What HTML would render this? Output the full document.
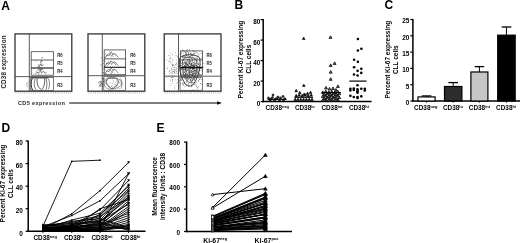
<!DOCTYPE html>
<html><head><meta charset="utf-8"><style>
html,body{margin:0;padding:0;background:#fff;overflow:hidden;}
svg{display:block;will-change:transform;}
text{font-family:"Liberation Sans",sans-serif;}
</style></head><body>
<svg width="520" height="243" viewBox="0 0 520 243">
<rect width="520" height="243" fill="#fff"/>
<text x="1.30" y="9.80" font-size="12" font-weight="bold" text-anchor="start" >A</text>
<text x="234.40" y="8.90" font-size="12" font-weight="bold" text-anchor="start" >B</text>
<text x="384.40" y="8.90" font-size="12" font-weight="bold" text-anchor="start" >C</text>
<text x="1.60" y="131.90" font-size="12" font-weight="bold" text-anchor="start" >D</text>
<text x="156.40" y="131.90" font-size="12" font-weight="bold" text-anchor="start" >E</text>
<text transform="translate(5.9,88.6) rotate(-90)" font-size="6.3" font-weight="bold" fill="#2a2a2a" textLength="53.2" lengthAdjust="spacing">CD38 expression</text>
<text x="17.90" y="104.80" font-size="5.6" font-weight="bold" text-anchor="start" fill="#2a2a2a" textLength="47" lengthAdjust="spacing">CD5 expression</text>
<line x1="69.20" y1="103.00" x2="218.00" y2="103.00" stroke="#000" stroke-width="1.1" />
<path d="M217.2,101.2 L221.8,103.0 L217.2,104.8 Z" fill="#000"/>
<line x1="15.50" y1="92.9" x2="71.30" y2="92.9" stroke="#888" stroke-width="0.9" stroke-dasharray="0.8,1.4"/>
<path transform="translate(15.00,0)" d="M17.2,78.3 C15.6,82 15.8,87 17.6,90.2" fill="none" stroke="#222" stroke-width="1.0"/>
<path transform="translate(15.00,0)" d="M20.2,78.8 C18.6,82 18.9,87 21,89.8" fill="none" stroke="#444" stroke-width="0.7"/>
<path transform="translate(15.00,0)" d="M22.2,78.6 C21.4,83 23.2,88 26.5,89.8 C29,88 30,83 29.6,78.4" fill="none" stroke="#333" stroke-width="0.8"/>
<path transform="translate(15.00,0)" d="M31,78.4 C32.2,82 32.2,86 31,89.6" fill="none" stroke="#444" stroke-width="0.7"/>
<path transform="translate(15.00,0)" d="M33.4,78.8 C35,82 35,86 33.4,89.2" fill="none" stroke="#555" stroke-width="0.7"/>
<path transform="translate(15.00,0)" d="M12.6,86.8 C11.4,85 11.4,83.5 12.6,82" fill="none" stroke="#777" stroke-width="0.6"/>
<path d="M30.8,77.9 L48.5,77.9" stroke="#111" stroke-width="0.9"/>
<path d="M35.0,74.2 l2,-2 l1.5,1 l2,-2.5 l1,2 l2,-1.5 l1.5,2 l1.5,-1 M37.5,70.5 l2,-1.5 l1,1.5 l1.5,-2 M38.0,66.5 l2,-1 l1,-2 l1,2.5 l1.5,-1.5 M40.5,62.5 l1,-2 l0.8,1.5 M41.5,58.5 l1.5,-1.5" fill="none" stroke="#333" stroke-width="0.6"/>
<circle cx="39.44" cy="70.05" r="0.42" fill="#444"/>
<circle cx="39.50" cy="66.74" r="0.42" fill="#444"/>
<circle cx="37.95" cy="67.15" r="0.42" fill="#444"/>
<circle cx="42.45" cy="69.70" r="0.42" fill="#444"/>
<circle cx="42.28" cy="69.00" r="0.42" fill="#444"/>
<circle cx="40.87" cy="68.74" r="0.42" fill="#444"/>
<circle cx="36.33" cy="71.42" r="0.42" fill="#444"/>
<circle cx="41.11" cy="70.00" r="0.42" fill="#444"/>
<circle cx="36.28" cy="61.02" r="0.42" fill="#444"/>
<circle cx="38.04" cy="66.13" r="0.42" fill="#444"/>
<circle cx="40.67" cy="67.82" r="0.42" fill="#444"/>
<circle cx="41.15" cy="65.43" r="0.42" fill="#444"/>
<circle cx="40.68" cy="69.58" r="0.42" fill="#444"/>
<circle cx="38.55" cy="74.87" r="0.42" fill="#444"/>
<circle cx="41.22" cy="72.79" r="0.42" fill="#444"/>
<circle cx="38.64" cy="65.04" r="0.42" fill="#444"/>
<circle cx="39.24" cy="67.57" r="0.42" fill="#444"/>
<circle cx="41.39" cy="68.99" r="0.42" fill="#444"/>
<circle cx="39.02" cy="64.17" r="0.42" fill="#444"/>
<circle cx="38.85" cy="72.88" r="0.42" fill="#444"/>
<circle cx="38.22" cy="68.98" r="0.42" fill="#444"/>
<circle cx="40.94" cy="62.04" r="0.42" fill="#444"/>
<rect x="15.00" y="33.9" width="56.8" height="57.30" fill="none" stroke="#333" stroke-width="1.3"/>
<line x1="29.30" y1="33.90" x2="29.30" y2="91.20" stroke="#4a4a4a" stroke-width="0.9" />
<line x1="15.00" y1="76.60" x2="71.80" y2="76.60" stroke="#4a4a4a" stroke-width="0.9" />
<rect x="31.20" y="51.7" width="22.20" height="23.50" fill="none" stroke="#444" stroke-width="0.8"/>
<line x1="31.20" y1="60.00" x2="53.40" y2="60.00" stroke="#333" stroke-width="0.8" />
<line x1="31.20" y1="68.00" x2="53.40" y2="68.00" stroke="#111" stroke-width="1.1" />
<rect x="30.80" y="77.60" width="22.60" height="12.70" fill="none" stroke="#444" stroke-width="0.7"/>
<text x="57.30" y="57.30" font-size="4.6" font-weight="bold" text-anchor="start" fill="#222" textLength="5.4" lengthAdjust="spacingAndGlyphs">R6</text>
<text x="57.30" y="65.20" font-size="4.6" font-weight="bold" text-anchor="start" fill="#222" textLength="5.4" lengthAdjust="spacingAndGlyphs">R5</text>
<text x="57.30" y="73.30" font-size="4.6" font-weight="bold" text-anchor="start" fill="#222" textLength="5.4" lengthAdjust="spacingAndGlyphs">R4</text>
<text x="57.30" y="86.80" font-size="4.6" font-weight="bold" text-anchor="start" fill="#222" textLength="5.4" lengthAdjust="spacingAndGlyphs">R3</text>
<line x1="88.50" y1="92.9" x2="144.30" y2="92.9" stroke="#888" stroke-width="0.9" stroke-dasharray="0.8,1.4"/>
<path d="M118.06,82.80 L117.73,83.64 L117.30,84.40 L116.84,85.08 L116.37,85.72 L115.89,86.36 L115.35,86.98 L114.71,87.56 L113.97,88.04 L113.11,88.36 L112.20,88.47 L111.29,88.35 L110.44,88.02 L109.70,87.53 L109.07,86.95 L108.53,86.34 L108.03,85.72 L107.55,85.08 L107.08,84.40 L106.64,83.65 L106.30,82.80 L106.14,81.87 L106.22,80.93 L106.57,80.03 L107.17,79.28 L107.97,78.72 L108.87,78.38 L109.78,78.22 L110.65,78.19 L111.44,78.20 L112.20,78.21 L112.96,78.19 L113.76,78.16 L114.64,78.19 L115.55,78.35 L116.45,78.70 L117.24,79.27 L117.83,80.04 L118.16,80.93 L118.23,81.88Z" fill="none" stroke="#222" stroke-width="0.8" opacity="1.0"/>
<path d="M121.54,83.20 L121.33,84.24 L120.82,85.22 L120.05,86.08 L119.12,86.80 L118.08,87.40 L117.01,87.88 L115.91,88.28 L114.79,88.63 L113.62,88.91 L112.40,89.10 L111.12,89.18 L109.80,89.11 L108.50,88.85 L107.28,88.40 L106.20,87.77 L105.32,86.99 L104.66,86.11 L104.22,85.16 L103.98,84.18 L103.93,83.20 L104.06,82.23 L104.36,81.27 L104.84,80.36 L105.52,79.51 L106.38,78.76 L107.42,78.14 L108.59,77.68 L109.84,77.39 L111.13,77.27 L112.40,77.30 L113.64,77.44 L114.83,77.67 L116.00,77.98 L117.15,78.38 L118.26,78.88 L119.31,79.50 L120.23,80.25 L120.95,81.15 L121.41,82.15Z" fill="none" stroke="#555" stroke-width="0.6" opacity="1.0"/>
<path d="M120.5,78.5 C122.5,81 122.5,86 121.0,88.5" fill="none" stroke="#444" stroke-width="0.6"/>
<path d="M105.0,57.90 l2,-3 l2,1 l2,-3.5 l2,2 l2,-1 l2,2.5 l1.5,1.5" fill="none" stroke="#333" stroke-width="0.6"/>
<path d="M106.0,55.40 l3,-2 l3,2.5 l2,-2" fill="none" stroke="#555" stroke-width="0.5"/>
<circle cx="111.15" cy="57.01" r="0.42" fill="#444"/>
<circle cx="104.96" cy="53.76" r="0.42" fill="#444"/>
<circle cx="110.68" cy="52.77" r="0.42" fill="#444"/>
<circle cx="112.49" cy="54.28" r="0.42" fill="#444"/>
<circle cx="106.61" cy="56.06" r="0.42" fill="#444"/>
<circle cx="113.01" cy="56.29" r="0.42" fill="#444"/>
<circle cx="115.32" cy="55.12" r="0.42" fill="#444"/>
<circle cx="111.36" cy="51.80" r="0.42" fill="#444"/>
<circle cx="112.85" cy="53.18" r="0.42" fill="#444"/>
<circle cx="109.64" cy="51.87" r="0.42" fill="#444"/>
<path d="M105.0,66.30 l2,-3 l2,1 l2,-3.5 l2,2 l2,-1 l2,2.5 l1.5,1.5" fill="none" stroke="#333" stroke-width="0.6"/>
<path d="M106.0,63.80 l3,-2 l3,2.5 l2,-2" fill="none" stroke="#555" stroke-width="0.5"/>
<circle cx="108.10" cy="62.04" r="0.42" fill="#444"/>
<circle cx="106.63" cy="63.58" r="0.42" fill="#444"/>
<circle cx="115.33" cy="64.26" r="0.42" fill="#444"/>
<circle cx="112.07" cy="61.63" r="0.42" fill="#444"/>
<circle cx="107.64" cy="65.05" r="0.42" fill="#444"/>
<circle cx="114.31" cy="63.41" r="0.42" fill="#444"/>
<circle cx="111.74" cy="63.97" r="0.42" fill="#444"/>
<circle cx="115.78" cy="64.34" r="0.42" fill="#444"/>
<path d="M105.0,73.70 l2,-3 l2,1 l2,-3.5 l2,2 l2,-1 l2,2.5 l1.5,1.5" fill="none" stroke="#333" stroke-width="0.6"/>
<path d="M106.0,71.20 l3,-2 l3,2.5 l2,-2" fill="none" stroke="#555" stroke-width="0.5"/>
<circle cx="112.56" cy="72.10" r="0.42" fill="#444"/>
<circle cx="106.30" cy="73.56" r="0.42" fill="#444"/>
<circle cx="113.87" cy="72.06" r="0.42" fill="#444"/>
<circle cx="105.08" cy="69.73" r="0.42" fill="#444"/>
<circle cx="110.45" cy="73.04" r="0.42" fill="#444"/>
<circle cx="112.66" cy="70.70" r="0.42" fill="#444"/>
<circle cx="111.97" cy="72.30" r="0.42" fill="#444"/>
<circle cx="111.36" cy="73.29" r="0.42" fill="#444"/>
<circle cx="99.94" cy="81.55" r="0.45" fill="#333"/>
<circle cx="102.67" cy="83.09" r="0.45" fill="#333"/>
<circle cx="99.59" cy="86.31" r="0.45" fill="#333"/>
<circle cx="103.34" cy="81.44" r="0.45" fill="#333"/>
<circle cx="98.79" cy="82.53" r="0.45" fill="#333"/>
<circle cx="100.76" cy="81.96" r="0.45" fill="#333"/>
<circle cx="103.25" cy="79.41" r="0.45" fill="#333"/>
<circle cx="103.02" cy="78.56" r="0.45" fill="#333"/>
<circle cx="99.74" cy="85.21" r="0.45" fill="#333"/>
<circle cx="102.81" cy="86.01" r="0.45" fill="#333"/>
<circle cx="101.55" cy="83.50" r="0.45" fill="#333"/>
<circle cx="101.24" cy="85.01" r="0.45" fill="#333"/>
<circle cx="100.72" cy="83.97" r="0.45" fill="#333"/>
<circle cx="101.92" cy="83.00" r="0.45" fill="#333"/>
<circle cx="102.22" cy="84.98" r="0.45" fill="#333"/>
<circle cx="104.22" cy="84.14" r="0.45" fill="#333"/>
<circle cx="100.32" cy="81.70" r="0.45" fill="#333"/>
<circle cx="100.98" cy="86.23" r="0.45" fill="#333"/>
<circle cx="100.46" cy="84.35" r="0.45" fill="#333"/>
<circle cx="99.20" cy="83.85" r="0.45" fill="#333"/>
<circle cx="101.64" cy="83.84" r="0.45" fill="#333"/>
<circle cx="100.31" cy="85.29" r="0.45" fill="#333"/>
<circle cx="101.45" cy="81.17" r="0.45" fill="#333"/>
<circle cx="100.11" cy="82.65" r="0.45" fill="#333"/>
<circle cx="103.23" cy="67.56" r="0.42" fill="#444"/>
<circle cx="100.23" cy="64.59" r="0.42" fill="#444"/>
<circle cx="104.71" cy="59.82" r="0.42" fill="#444"/>
<circle cx="103.42" cy="74.67" r="0.42" fill="#444"/>
<circle cx="104.53" cy="78.44" r="0.42" fill="#444"/>
<circle cx="101.46" cy="65.53" r="0.42" fill="#444"/>
<circle cx="103.09" cy="72.36" r="0.42" fill="#444"/>
<circle cx="104.81" cy="57.87" r="0.42" fill="#444"/>
<circle cx="104.32" cy="57.56" r="0.42" fill="#444"/>
<circle cx="103.71" cy="76.36" r="0.42" fill="#444"/>
<circle cx="103.32" cy="69.34" r="0.42" fill="#444"/>
<circle cx="104.46" cy="68.99" r="0.42" fill="#444"/>
<circle cx="103.39" cy="78.73" r="0.42" fill="#444"/>
<circle cx="104.76" cy="65.94" r="0.42" fill="#444"/>
<circle cx="104.60" cy="66.14" r="0.42" fill="#444"/>
<circle cx="103.66" cy="72.94" r="0.42" fill="#444"/>
<circle cx="103.77" cy="72.47" r="0.42" fill="#444"/>
<circle cx="101.67" cy="57.43" r="0.42" fill="#444"/>
<circle cx="104.24" cy="61.26" r="0.42" fill="#444"/>
<circle cx="102.27" cy="57.71" r="0.42" fill="#444"/>
<circle cx="105.02" cy="73.23" r="0.42" fill="#444"/>
<circle cx="105.27" cy="61.44" r="0.42" fill="#444"/>
<circle cx="103.50" cy="60.02" r="0.42" fill="#444"/>
<circle cx="104.42" cy="79.13" r="0.42" fill="#444"/>
<circle cx="102.43" cy="78.92" r="0.42" fill="#444"/>
<circle cx="104.69" cy="66.76" r="0.42" fill="#444"/>
<circle cx="101.13" cy="77.85" r="0.42" fill="#444"/>
<circle cx="103.38" cy="63.78" r="0.42" fill="#444"/>
<circle cx="114.00" cy="84.43" r="0.4" fill="#555"/>
<circle cx="119.49" cy="79.43" r="0.4" fill="#555"/>
<circle cx="117.68" cy="88.21" r="0.4" fill="#555"/>
<circle cx="119.26" cy="82.37" r="0.4" fill="#555"/>
<circle cx="108.28" cy="86.57" r="0.4" fill="#555"/>
<circle cx="112.58" cy="83.43" r="0.4" fill="#555"/>
<circle cx="119.12" cy="82.08" r="0.4" fill="#555"/>
<circle cx="113.59" cy="80.86" r="0.4" fill="#555"/>
<circle cx="111.95" cy="85.91" r="0.4" fill="#555"/>
<circle cx="112.39" cy="87.64" r="0.4" fill="#555"/>
<circle cx="111.69" cy="86.64" r="0.4" fill="#555"/>
<circle cx="119.46" cy="88.63" r="0.4" fill="#555"/>
<circle cx="108.64" cy="86.08" r="0.4" fill="#555"/>
<circle cx="105.84" cy="82.96" r="0.4" fill="#555"/>
<circle cx="111.04" cy="82.90" r="0.4" fill="#555"/>
<circle cx="109.04" cy="83.82" r="0.4" fill="#555"/>
<circle cx="120.96" cy="83.15" r="0.4" fill="#555"/>
<circle cx="114.65" cy="86.50" r="0.4" fill="#555"/>
<circle cx="111.01" cy="78.59" r="0.4" fill="#555"/>
<circle cx="109.22" cy="86.76" r="0.4" fill="#555"/>
<circle cx="117.04" cy="85.77" r="0.4" fill="#555"/>
<circle cx="112.04" cy="85.82" r="0.4" fill="#555"/>
<circle cx="112.83" cy="78.87" r="0.4" fill="#555"/>
<circle cx="104.18" cy="80.76" r="0.4" fill="#555"/>
<circle cx="116.61" cy="81.02" r="0.4" fill="#555"/>
<circle cx="107.49" cy="80.30" r="0.4" fill="#555"/>
<circle cx="104.34" cy="82.59" r="0.4" fill="#555"/>
<circle cx="106.10" cy="84.27" r="0.4" fill="#555"/>
<circle cx="115.62" cy="82.04" r="0.4" fill="#555"/>
<circle cx="113.46" cy="81.39" r="0.4" fill="#555"/>
<circle cx="115.90" cy="85.62" r="0.4" fill="#555"/>
<circle cx="115.33" cy="84.14" r="0.4" fill="#555"/>
<rect x="88.00" y="33.9" width="56.8" height="57.30" fill="none" stroke="#333" stroke-width="1.3"/>
<line x1="102.30" y1="33.90" x2="102.30" y2="91.20" stroke="#4a4a4a" stroke-width="0.9" />
<line x1="88.00" y1="75.70" x2="144.80" y2="75.70" stroke="#4a4a4a" stroke-width="0.9" />
<rect x="104.20" y="49.9" width="21.40" height="24.80" fill="none" stroke="#444" stroke-width="0.8"/>
<line x1="104.20" y1="58.90" x2="125.60" y2="58.90" stroke="#333" stroke-width="0.8" />
<line x1="104.20" y1="67.30" x2="125.60" y2="67.30" stroke="#111" stroke-width="1.1" />
<rect x="103.80" y="76.70" width="21.80" height="13.60" fill="none" stroke="#444" stroke-width="0.7"/>
<text x="130.30" y="57.30" font-size="4.6" font-weight="bold" text-anchor="start" fill="#222" textLength="5.4" lengthAdjust="spacingAndGlyphs">R6</text>
<text x="130.30" y="65.20" font-size="4.6" font-weight="bold" text-anchor="start" fill="#222" textLength="5.4" lengthAdjust="spacingAndGlyphs">R5</text>
<text x="130.30" y="73.30" font-size="4.6" font-weight="bold" text-anchor="start" fill="#222" textLength="5.4" lengthAdjust="spacingAndGlyphs">R4</text>
<text x="130.30" y="86.80" font-size="4.6" font-weight="bold" text-anchor="start" fill="#222" textLength="5.4" lengthAdjust="spacingAndGlyphs">R3</text>
<line x1="164.70" y1="92.9" x2="220.50" y2="92.9" stroke="#888" stroke-width="0.9" stroke-dasharray="0.8,1.4"/>
<circle cx="197.60" cy="76.27" r="0.45" fill="#3a3a3a"/>
<circle cx="192.31" cy="50.20" r="0.45" fill="#3a3a3a"/>
<circle cx="194.98" cy="82.44" r="0.45" fill="#3a3a3a"/>
<circle cx="187.82" cy="65.54" r="0.45" fill="#3a3a3a"/>
<circle cx="201.24" cy="53.30" r="0.45" fill="#3a3a3a"/>
<circle cx="184.03" cy="76.55" r="0.45" fill="#3a3a3a"/>
<circle cx="200.92" cy="68.86" r="0.45" fill="#3a3a3a"/>
<circle cx="192.97" cy="78.57" r="0.45" fill="#3a3a3a"/>
<circle cx="184.17" cy="69.15" r="0.45" fill="#3a3a3a"/>
<circle cx="191.36" cy="77.84" r="0.45" fill="#3a3a3a"/>
<circle cx="189.39" cy="68.14" r="0.45" fill="#3a3a3a"/>
<circle cx="183.50" cy="66.59" r="0.45" fill="#3a3a3a"/>
<circle cx="194.95" cy="70.97" r="0.45" fill="#3a3a3a"/>
<circle cx="184.48" cy="62.00" r="0.45" fill="#3a3a3a"/>
<circle cx="193.33" cy="74.57" r="0.45" fill="#3a3a3a"/>
<circle cx="199.70" cy="74.06" r="0.45" fill="#3a3a3a"/>
<circle cx="189.20" cy="74.96" r="0.45" fill="#3a3a3a"/>
<circle cx="177.93" cy="79.82" r="0.45" fill="#3a3a3a"/>
<circle cx="191.55" cy="63.33" r="0.45" fill="#3a3a3a"/>
<circle cx="197.55" cy="87.19" r="0.45" fill="#3a3a3a"/>
<circle cx="181.19" cy="63.67" r="0.45" fill="#3a3a3a"/>
<circle cx="191.35" cy="71.74" r="0.45" fill="#3a3a3a"/>
<circle cx="187.21" cy="60.74" r="0.45" fill="#3a3a3a"/>
<circle cx="202.32" cy="79.86" r="0.45" fill="#3a3a3a"/>
<circle cx="182.43" cy="57.22" r="0.45" fill="#3a3a3a"/>
<circle cx="199.82" cy="79.40" r="0.45" fill="#3a3a3a"/>
<circle cx="200.53" cy="77.70" r="0.45" fill="#3a3a3a"/>
<circle cx="184.37" cy="72.48" r="0.45" fill="#3a3a3a"/>
<circle cx="176.64" cy="62.89" r="0.45" fill="#3a3a3a"/>
<circle cx="189.25" cy="74.97" r="0.45" fill="#3a3a3a"/>
<circle cx="185.23" cy="68.82" r="0.45" fill="#3a3a3a"/>
<circle cx="192.35" cy="73.58" r="0.45" fill="#3a3a3a"/>
<circle cx="193.43" cy="71.99" r="0.45" fill="#3a3a3a"/>
<circle cx="187.66" cy="77.50" r="0.45" fill="#3a3a3a"/>
<circle cx="189.90" cy="62.15" r="0.45" fill="#3a3a3a"/>
<circle cx="185.84" cy="70.00" r="0.45" fill="#3a3a3a"/>
<circle cx="188.94" cy="71.49" r="0.45" fill="#3a3a3a"/>
<circle cx="189.60" cy="71.67" r="0.45" fill="#3a3a3a"/>
<circle cx="188.79" cy="58.04" r="0.45" fill="#3a3a3a"/>
<circle cx="192.13" cy="80.01" r="0.45" fill="#3a3a3a"/>
<circle cx="192.21" cy="68.20" r="0.45" fill="#3a3a3a"/>
<circle cx="192.28" cy="60.83" r="0.45" fill="#3a3a3a"/>
<circle cx="178.22" cy="70.57" r="0.45" fill="#3a3a3a"/>
<circle cx="184.02" cy="77.03" r="0.45" fill="#3a3a3a"/>
<circle cx="183.36" cy="84.99" r="0.45" fill="#3a3a3a"/>
<circle cx="187.31" cy="56.99" r="0.45" fill="#3a3a3a"/>
<circle cx="185.02" cy="74.95" r="0.45" fill="#3a3a3a"/>
<circle cx="192.58" cy="71.68" r="0.45" fill="#3a3a3a"/>
<circle cx="198.50" cy="76.71" r="0.45" fill="#3a3a3a"/>
<circle cx="189.47" cy="75.67" r="0.45" fill="#3a3a3a"/>
<circle cx="199.53" cy="79.23" r="0.45" fill="#3a3a3a"/>
<circle cx="195.74" cy="59.71" r="0.45" fill="#3a3a3a"/>
<circle cx="188.71" cy="76.93" r="0.45" fill="#3a3a3a"/>
<circle cx="187.82" cy="80.15" r="0.45" fill="#3a3a3a"/>
<circle cx="193.18" cy="78.63" r="0.45" fill="#3a3a3a"/>
<circle cx="197.04" cy="67.95" r="0.45" fill="#3a3a3a"/>
<circle cx="187.54" cy="78.30" r="0.45" fill="#3a3a3a"/>
<circle cx="195.48" cy="70.06" r="0.45" fill="#3a3a3a"/>
<circle cx="182.60" cy="71.78" r="0.45" fill="#3a3a3a"/>
<circle cx="191.76" cy="80.73" r="0.45" fill="#3a3a3a"/>
<circle cx="194.30" cy="70.23" r="0.45" fill="#3a3a3a"/>
<circle cx="194.72" cy="75.13" r="0.45" fill="#3a3a3a"/>
<circle cx="190.84" cy="70.52" r="0.45" fill="#3a3a3a"/>
<circle cx="188.14" cy="76.52" r="0.45" fill="#3a3a3a"/>
<circle cx="183.27" cy="64.03" r="0.45" fill="#3a3a3a"/>
<circle cx="189.63" cy="56.09" r="0.45" fill="#3a3a3a"/>
<circle cx="186.98" cy="50.92" r="0.45" fill="#3a3a3a"/>
<circle cx="185.50" cy="75.40" r="0.45" fill="#3a3a3a"/>
<circle cx="193.00" cy="69.48" r="0.45" fill="#3a3a3a"/>
<circle cx="188.21" cy="56.54" r="0.45" fill="#3a3a3a"/>
<circle cx="200.57" cy="74.90" r="0.45" fill="#3a3a3a"/>
<circle cx="196.16" cy="61.62" r="0.45" fill="#3a3a3a"/>
<circle cx="188.49" cy="52.71" r="0.45" fill="#3a3a3a"/>
<circle cx="194.28" cy="78.88" r="0.45" fill="#3a3a3a"/>
<circle cx="178.22" cy="69.50" r="0.45" fill="#3a3a3a"/>
<circle cx="193.38" cy="53.26" r="0.45" fill="#3a3a3a"/>
<circle cx="178.65" cy="59.88" r="0.45" fill="#3a3a3a"/>
<circle cx="185.82" cy="56.67" r="0.45" fill="#3a3a3a"/>
<circle cx="189.79" cy="72.37" r="0.45" fill="#3a3a3a"/>
<circle cx="193.40" cy="76.67" r="0.45" fill="#3a3a3a"/>
<circle cx="198.62" cy="81.06" r="0.45" fill="#3a3a3a"/>
<circle cx="181.73" cy="65.20" r="0.45" fill="#3a3a3a"/>
<circle cx="183.24" cy="59.77" r="0.45" fill="#3a3a3a"/>
<circle cx="189.11" cy="70.05" r="0.45" fill="#3a3a3a"/>
<circle cx="192.54" cy="54.92" r="0.45" fill="#3a3a3a"/>
<circle cx="182.17" cy="69.78" r="0.45" fill="#3a3a3a"/>
<circle cx="188.40" cy="67.04" r="0.45" fill="#3a3a3a"/>
<circle cx="189.22" cy="62.78" r="0.45" fill="#3a3a3a"/>
<circle cx="193.81" cy="73.37" r="0.45" fill="#3a3a3a"/>
<circle cx="189.07" cy="63.62" r="0.45" fill="#3a3a3a"/>
<circle cx="183.71" cy="70.35" r="0.45" fill="#3a3a3a"/>
<circle cx="180.58" cy="71.90" r="0.45" fill="#3a3a3a"/>
<circle cx="190.48" cy="56.91" r="0.45" fill="#3a3a3a"/>
<circle cx="188.10" cy="67.02" r="0.45" fill="#3a3a3a"/>
<circle cx="192.36" cy="75.81" r="0.45" fill="#3a3a3a"/>
<circle cx="189.38" cy="61.91" r="0.45" fill="#3a3a3a"/>
<circle cx="188.73" cy="69.38" r="0.45" fill="#3a3a3a"/>
<circle cx="194.01" cy="72.80" r="0.45" fill="#3a3a3a"/>
<circle cx="185.26" cy="57.13" r="0.45" fill="#3a3a3a"/>
<circle cx="187.36" cy="62.97" r="0.45" fill="#3a3a3a"/>
<circle cx="182.93" cy="68.90" r="0.45" fill="#3a3a3a"/>
<circle cx="186.65" cy="71.00" r="0.45" fill="#3a3a3a"/>
<circle cx="192.74" cy="66.08" r="0.45" fill="#3a3a3a"/>
<circle cx="203.55" cy="66.95" r="0.45" fill="#3a3a3a"/>
<circle cx="196.21" cy="71.16" r="0.45" fill="#3a3a3a"/>
<circle cx="185.09" cy="72.35" r="0.45" fill="#3a3a3a"/>
<circle cx="191.54" cy="82.16" r="0.45" fill="#3a3a3a"/>
<circle cx="194.20" cy="79.00" r="0.45" fill="#3a3a3a"/>
<circle cx="192.66" cy="68.52" r="0.45" fill="#3a3a3a"/>
<circle cx="192.65" cy="59.76" r="0.45" fill="#3a3a3a"/>
<circle cx="196.69" cy="60.34" r="0.45" fill="#3a3a3a"/>
<circle cx="191.10" cy="90.15" r="0.45" fill="#3a3a3a"/>
<circle cx="188.26" cy="70.19" r="0.45" fill="#3a3a3a"/>
<circle cx="196.58" cy="70.25" r="0.45" fill="#3a3a3a"/>
<circle cx="184.75" cy="72.45" r="0.45" fill="#3a3a3a"/>
<circle cx="193.09" cy="76.75" r="0.45" fill="#3a3a3a"/>
<circle cx="184.96" cy="86.65" r="0.45" fill="#3a3a3a"/>
<circle cx="199.60" cy="70.17" r="0.45" fill="#3a3a3a"/>
<circle cx="191.21" cy="65.93" r="0.45" fill="#3a3a3a"/>
<circle cx="198.08" cy="63.30" r="0.45" fill="#3a3a3a"/>
<circle cx="193.64" cy="65.44" r="0.45" fill="#3a3a3a"/>
<circle cx="185.44" cy="76.83" r="0.45" fill="#3a3a3a"/>
<circle cx="197.60" cy="69.90" r="0.45" fill="#3a3a3a"/>
<circle cx="185.54" cy="77.71" r="0.45" fill="#3a3a3a"/>
<circle cx="189.30" cy="72.95" r="0.45" fill="#3a3a3a"/>
<circle cx="198.74" cy="80.75" r="0.45" fill="#3a3a3a"/>
<circle cx="189.62" cy="77.47" r="0.45" fill="#3a3a3a"/>
<circle cx="185.72" cy="69.58" r="0.45" fill="#3a3a3a"/>
<circle cx="179.10" cy="86.97" r="0.45" fill="#3a3a3a"/>
<circle cx="197.79" cy="58.45" r="0.45" fill="#3a3a3a"/>
<circle cx="180.57" cy="54.60" r="0.45" fill="#3a3a3a"/>
<circle cx="196.65" cy="65.63" r="0.45" fill="#3a3a3a"/>
<circle cx="189.24" cy="67.03" r="0.45" fill="#3a3a3a"/>
<circle cx="188.87" cy="59.66" r="0.45" fill="#3a3a3a"/>
<circle cx="189.74" cy="56.34" r="0.45" fill="#3a3a3a"/>
<circle cx="189.17" cy="72.93" r="0.45" fill="#3a3a3a"/>
<circle cx="192.41" cy="67.80" r="0.45" fill="#3a3a3a"/>
<circle cx="184.18" cy="71.52" r="0.45" fill="#3a3a3a"/>
<circle cx="186.69" cy="84.88" r="0.45" fill="#3a3a3a"/>
<circle cx="194.21" cy="68.91" r="0.45" fill="#3a3a3a"/>
<circle cx="186.77" cy="63.32" r="0.45" fill="#3a3a3a"/>
<circle cx="183.98" cy="66.65" r="0.45" fill="#3a3a3a"/>
<circle cx="191.37" cy="74.90" r="0.45" fill="#3a3a3a"/>
<circle cx="193.01" cy="89.94" r="0.45" fill="#3a3a3a"/>
<circle cx="185.37" cy="70.12" r="0.45" fill="#3a3a3a"/>
<circle cx="186.47" cy="71.61" r="0.45" fill="#3a3a3a"/>
<circle cx="190.53" cy="73.87" r="0.45" fill="#3a3a3a"/>
<circle cx="188.17" cy="73.48" r="0.45" fill="#3a3a3a"/>
<circle cx="189.92" cy="77.33" r="0.45" fill="#3a3a3a"/>
<circle cx="178.24" cy="61.59" r="0.45" fill="#3a3a3a"/>
<circle cx="189.59" cy="60.20" r="0.45" fill="#3a3a3a"/>
<circle cx="183.33" cy="75.96" r="0.45" fill="#3a3a3a"/>
<circle cx="185.70" cy="76.03" r="0.45" fill="#3a3a3a"/>
<circle cx="194.07" cy="72.91" r="0.45" fill="#3a3a3a"/>
<circle cx="192.65" cy="69.01" r="0.45" fill="#3a3a3a"/>
<circle cx="181.15" cy="69.71" r="0.45" fill="#3a3a3a"/>
<circle cx="192.33" cy="64.97" r="0.45" fill="#3a3a3a"/>
<circle cx="189.00" cy="77.12" r="0.45" fill="#3a3a3a"/>
<circle cx="184.33" cy="76.08" r="0.45" fill="#3a3a3a"/>
<circle cx="200.78" cy="64.73" r="0.45" fill="#3a3a3a"/>
<circle cx="190.48" cy="68.57" r="0.45" fill="#3a3a3a"/>
<circle cx="198.84" cy="73.01" r="0.45" fill="#3a3a3a"/>
<circle cx="194.99" cy="63.44" r="0.45" fill="#3a3a3a"/>
<circle cx="189.50" cy="69.91" r="0.45" fill="#3a3a3a"/>
<circle cx="178.94" cy="83.69" r="0.45" fill="#3a3a3a"/>
<circle cx="195.00" cy="53.38" r="0.45" fill="#3a3a3a"/>
<circle cx="194.07" cy="68.75" r="0.45" fill="#3a3a3a"/>
<circle cx="192.29" cy="73.48" r="0.45" fill="#3a3a3a"/>
<circle cx="180.61" cy="67.99" r="0.45" fill="#3a3a3a"/>
<circle cx="198.56" cy="64.54" r="0.45" fill="#3a3a3a"/>
<circle cx="183.46" cy="57.08" r="0.45" fill="#3a3a3a"/>
<circle cx="182.27" cy="73.19" r="0.45" fill="#3a3a3a"/>
<circle cx="199.76" cy="74.08" r="0.45" fill="#3a3a3a"/>
<circle cx="186.48" cy="63.60" r="0.45" fill="#3a3a3a"/>
<circle cx="192.77" cy="75.21" r="0.45" fill="#3a3a3a"/>
<circle cx="183.51" cy="58.89" r="0.45" fill="#3a3a3a"/>
<circle cx="191.35" cy="72.35" r="0.45" fill="#3a3a3a"/>
<circle cx="181.76" cy="68.08" r="0.45" fill="#3a3a3a"/>
<circle cx="186.34" cy="74.37" r="0.45" fill="#3a3a3a"/>
<circle cx="188.90" cy="69.18" r="0.45" fill="#3a3a3a"/>
<circle cx="187.48" cy="80.01" r="0.45" fill="#3a3a3a"/>
<circle cx="197.94" cy="66.51" r="0.45" fill="#3a3a3a"/>
<circle cx="194.68" cy="62.80" r="0.45" fill="#3a3a3a"/>
<circle cx="190.03" cy="77.12" r="0.45" fill="#3a3a3a"/>
<circle cx="198.69" cy="66.37" r="0.45" fill="#3a3a3a"/>
<circle cx="189.16" cy="71.87" r="0.45" fill="#3a3a3a"/>
<circle cx="180.61" cy="70.15" r="0.45" fill="#3a3a3a"/>
<circle cx="185.54" cy="73.53" r="0.45" fill="#3a3a3a"/>
<circle cx="182.82" cy="51.22" r="0.45" fill="#3a3a3a"/>
<circle cx="189.83" cy="72.48" r="0.45" fill="#3a3a3a"/>
<circle cx="186.31" cy="78.44" r="0.45" fill="#3a3a3a"/>
<circle cx="187.96" cy="64.25" r="0.45" fill="#3a3a3a"/>
<circle cx="192.47" cy="55.10" r="0.45" fill="#3a3a3a"/>
<circle cx="185.54" cy="69.80" r="0.45" fill="#3a3a3a"/>
<circle cx="194.69" cy="68.45" r="0.45" fill="#3a3a3a"/>
<circle cx="191.45" cy="63.77" r="0.45" fill="#3a3a3a"/>
<circle cx="191.41" cy="85.80" r="0.45" fill="#3a3a3a"/>
<circle cx="185.74" cy="70.16" r="0.45" fill="#3a3a3a"/>
<circle cx="190.64" cy="79.73" r="0.45" fill="#3a3a3a"/>
<circle cx="182.18" cy="50.04" r="0.45" fill="#3a3a3a"/>
<circle cx="193.24" cy="77.56" r="0.45" fill="#3a3a3a"/>
<circle cx="190.83" cy="72.41" r="0.45" fill="#3a3a3a"/>
<circle cx="195.18" cy="73.50" r="0.45" fill="#3a3a3a"/>
<circle cx="199.58" cy="58.24" r="0.45" fill="#3a3a3a"/>
<circle cx="194.47" cy="66.46" r="0.45" fill="#3a3a3a"/>
<circle cx="195.14" cy="90.46" r="0.45" fill="#3a3a3a"/>
<circle cx="189.56" cy="67.58" r="0.45" fill="#3a3a3a"/>
<circle cx="186.60" cy="62.04" r="0.45" fill="#3a3a3a"/>
<circle cx="185.82" cy="76.07" r="0.45" fill="#3a3a3a"/>
<circle cx="189.82" cy="70.63" r="0.45" fill="#3a3a3a"/>
<circle cx="188.56" cy="78.69" r="0.45" fill="#3a3a3a"/>
<circle cx="192.56" cy="68.65" r="0.45" fill="#3a3a3a"/>
<circle cx="193.59" cy="68.56" r="0.45" fill="#3a3a3a"/>
<circle cx="182.68" cy="83.83" r="0.45" fill="#3a3a3a"/>
<circle cx="192.39" cy="60.91" r="0.45" fill="#3a3a3a"/>
<circle cx="196.07" cy="73.28" r="0.45" fill="#3a3a3a"/>
<circle cx="180.21" cy="85.29" r="0.45" fill="#3a3a3a"/>
<circle cx="191.60" cy="78.47" r="0.45" fill="#3a3a3a"/>
<circle cx="190.79" cy="68.58" r="0.45" fill="#3a3a3a"/>
<circle cx="180.31" cy="79.23" r="0.45" fill="#3a3a3a"/>
<circle cx="189.78" cy="67.28" r="0.45" fill="#3a3a3a"/>
<circle cx="191.71" cy="70.74" r="0.45" fill="#3a3a3a"/>
<circle cx="193.65" cy="66.48" r="0.45" fill="#3a3a3a"/>
<circle cx="189.38" cy="49.68" r="0.45" fill="#3a3a3a"/>
<circle cx="187.06" cy="76.42" r="0.45" fill="#3a3a3a"/>
<circle cx="197.62" cy="66.54" r="0.45" fill="#3a3a3a"/>
<circle cx="188.87" cy="85.04" r="0.45" fill="#3a3a3a"/>
<circle cx="187.65" cy="76.97" r="0.45" fill="#3a3a3a"/>
<circle cx="199.67" cy="70.38" r="0.45" fill="#3a3a3a"/>
<circle cx="196.96" cy="63.25" r="0.45" fill="#3a3a3a"/>
<circle cx="190.85" cy="69.27" r="0.45" fill="#3a3a3a"/>
<circle cx="190.29" cy="80.73" r="0.45" fill="#3a3a3a"/>
<circle cx="203.94" cy="63.68" r="0.45" fill="#3a3a3a"/>
<circle cx="186.15" cy="74.73" r="0.45" fill="#3a3a3a"/>
<circle cx="183.27" cy="74.72" r="0.45" fill="#3a3a3a"/>
<circle cx="193.03" cy="67.36" r="0.45" fill="#3a3a3a"/>
<circle cx="192.79" cy="55.28" r="0.45" fill="#3a3a3a"/>
<circle cx="194.16" cy="55.32" r="0.45" fill="#3a3a3a"/>
<circle cx="185.42" cy="64.72" r="0.45" fill="#3a3a3a"/>
<circle cx="187.19" cy="78.16" r="0.45" fill="#3a3a3a"/>
<circle cx="190.09" cy="66.22" r="0.45" fill="#3a3a3a"/>
<circle cx="192.86" cy="85.02" r="0.45" fill="#3a3a3a"/>
<circle cx="189.64" cy="73.48" r="0.45" fill="#3a3a3a"/>
<circle cx="197.04" cy="72.54" r="0.45" fill="#3a3a3a"/>
<circle cx="202.85" cy="51.14" r="0.45" fill="#3a3a3a"/>
<circle cx="189.37" cy="73.96" r="0.45" fill="#3a3a3a"/>
<circle cx="195.39" cy="76.36" r="0.45" fill="#3a3a3a"/>
<circle cx="187.97" cy="59.99" r="0.45" fill="#3a3a3a"/>
<circle cx="190.22" cy="79.82" r="0.45" fill="#3a3a3a"/>
<circle cx="183.06" cy="60.24" r="0.45" fill="#3a3a3a"/>
<circle cx="189.45" cy="51.59" r="0.45" fill="#3a3a3a"/>
<circle cx="188.04" cy="65.85" r="0.45" fill="#3a3a3a"/>
<circle cx="192.30" cy="63.33" r="0.45" fill="#3a3a3a"/>
<circle cx="184.31" cy="66.26" r="0.45" fill="#3a3a3a"/>
<circle cx="189.30" cy="63.69" r="0.45" fill="#3a3a3a"/>
<circle cx="189.67" cy="77.13" r="0.45" fill="#3a3a3a"/>
<circle cx="196.71" cy="86.20" r="0.45" fill="#3a3a3a"/>
<circle cx="184.90" cy="66.01" r="0.45" fill="#3a3a3a"/>
<circle cx="174.70" cy="88.04" r="0.45" fill="#3a3a3a"/>
<circle cx="185.25" cy="69.68" r="0.45" fill="#3a3a3a"/>
<circle cx="192.74" cy="57.09" r="0.45" fill="#3a3a3a"/>
<circle cx="192.38" cy="69.75" r="0.45" fill="#3a3a3a"/>
<circle cx="178.64" cy="72.77" r="0.45" fill="#3a3a3a"/>
<circle cx="196.77" cy="52.26" r="0.45" fill="#3a3a3a"/>
<circle cx="194.44" cy="71.99" r="0.45" fill="#3a3a3a"/>
<circle cx="192.45" cy="74.19" r="0.45" fill="#3a3a3a"/>
<circle cx="197.42" cy="67.88" r="0.45" fill="#3a3a3a"/>
<circle cx="194.84" cy="66.11" r="0.45" fill="#3a3a3a"/>
<circle cx="193.97" cy="62.27" r="0.45" fill="#3a3a3a"/>
<circle cx="188.95" cy="86.44" r="0.45" fill="#3a3a3a"/>
<circle cx="192.27" cy="68.50" r="0.45" fill="#3a3a3a"/>
<circle cx="182.73" cy="62.49" r="0.45" fill="#3a3a3a"/>
<circle cx="190.76" cy="78.92" r="0.45" fill="#3a3a3a"/>
<circle cx="192.16" cy="74.98" r="0.45" fill="#3a3a3a"/>
<circle cx="189.35" cy="82.84" r="0.45" fill="#3a3a3a"/>
<circle cx="187.26" cy="64.78" r="0.45" fill="#3a3a3a"/>
<circle cx="194.93" cy="70.60" r="0.45" fill="#3a3a3a"/>
<circle cx="187.93" cy="64.53" r="0.45" fill="#3a3a3a"/>
<circle cx="188.06" cy="75.92" r="0.45" fill="#3a3a3a"/>
<circle cx="191.72" cy="58.51" r="0.45" fill="#3a3a3a"/>
<circle cx="192.16" cy="71.70" r="0.45" fill="#3a3a3a"/>
<circle cx="183.60" cy="77.34" r="0.45" fill="#3a3a3a"/>
<circle cx="187.92" cy="66.81" r="0.45" fill="#3a3a3a"/>
<circle cx="194.37" cy="82.55" r="0.45" fill="#3a3a3a"/>
<circle cx="185.47" cy="74.16" r="0.45" fill="#3a3a3a"/>
<circle cx="186.64" cy="81.35" r="0.45" fill="#3a3a3a"/>
<circle cx="185.72" cy="77.71" r="0.45" fill="#3a3a3a"/>
<circle cx="186.99" cy="74.75" r="0.45" fill="#3a3a3a"/>
<circle cx="189.04" cy="63.65" r="0.45" fill="#3a3a3a"/>
<circle cx="202.51" cy="70.76" r="0.45" fill="#3a3a3a"/>
<circle cx="179.73" cy="78.11" r="0.45" fill="#3a3a3a"/>
<circle cx="179.27" cy="80.93" r="0.45" fill="#3a3a3a"/>
<circle cx="186.13" cy="71.38" r="0.45" fill="#3a3a3a"/>
<circle cx="197.17" cy="71.12" r="0.45" fill="#3a3a3a"/>
<circle cx="181.25" cy="53.89" r="0.45" fill="#3a3a3a"/>
<circle cx="196.70" cy="77.03" r="0.45" fill="#3a3a3a"/>
<circle cx="184.71" cy="78.17" r="0.45" fill="#3a3a3a"/>
<circle cx="192.58" cy="76.15" r="0.45" fill="#3a3a3a"/>
<circle cx="176.05" cy="67.13" r="0.45" fill="#3a3a3a"/>
<circle cx="195.00" cy="76.97" r="0.45" fill="#3a3a3a"/>
<circle cx="190.61" cy="74.68" r="0.45" fill="#3a3a3a"/>
<circle cx="187.62" cy="70.34" r="0.45" fill="#3a3a3a"/>
<circle cx="194.92" cy="65.79" r="0.45" fill="#3a3a3a"/>
<circle cx="196.48" cy="62.51" r="0.45" fill="#3a3a3a"/>
<circle cx="191.20" cy="64.99" r="0.45" fill="#3a3a3a"/>
<circle cx="190.55" cy="63.44" r="0.45" fill="#3a3a3a"/>
<circle cx="180.02" cy="80.38" r="0.45" fill="#3a3a3a"/>
<circle cx="191.42" cy="64.69" r="0.45" fill="#3a3a3a"/>
<circle cx="190.81" cy="79.41" r="0.45" fill="#3a3a3a"/>
<circle cx="183.74" cy="68.95" r="0.45" fill="#3a3a3a"/>
<circle cx="192.83" cy="75.00" r="0.45" fill="#3a3a3a"/>
<circle cx="187.59" cy="49.98" r="0.45" fill="#3a3a3a"/>
<circle cx="197.06" cy="73.12" r="0.45" fill="#3a3a3a"/>
<circle cx="189.68" cy="67.35" r="0.45" fill="#3a3a3a"/>
<circle cx="191.18" cy="65.96" r="0.45" fill="#3a3a3a"/>
<circle cx="183.45" cy="62.97" r="0.45" fill="#3a3a3a"/>
<circle cx="186.02" cy="64.18" r="0.45" fill="#3a3a3a"/>
<circle cx="182.65" cy="76.05" r="0.45" fill="#3a3a3a"/>
<circle cx="181.74" cy="76.27" r="0.45" fill="#3a3a3a"/>
<circle cx="183.51" cy="73.35" r="0.45" fill="#3a3a3a"/>
<circle cx="197.84" cy="71.93" r="0.45" fill="#3a3a3a"/>
<circle cx="185.22" cy="70.46" r="0.45" fill="#3a3a3a"/>
<circle cx="190.49" cy="53.53" r="0.45" fill="#3a3a3a"/>
<circle cx="185.95" cy="71.55" r="0.45" fill="#3a3a3a"/>
<circle cx="186.78" cy="70.76" r="0.45" fill="#3a3a3a"/>
<circle cx="194.00" cy="77.28" r="0.45" fill="#3a3a3a"/>
<circle cx="195.03" cy="75.59" r="0.45" fill="#3a3a3a"/>
<circle cx="187.87" cy="69.83" r="0.45" fill="#3a3a3a"/>
<circle cx="187.97" cy="67.02" r="0.45" fill="#3a3a3a"/>
<circle cx="188.52" cy="53.62" r="0.45" fill="#3a3a3a"/>
<circle cx="187.60" cy="69.77" r="0.45" fill="#3a3a3a"/>
<circle cx="183.76" cy="69.77" r="0.45" fill="#3a3a3a"/>
<circle cx="192.69" cy="68.44" r="0.45" fill="#3a3a3a"/>
<circle cx="188.36" cy="52.66" r="0.45" fill="#3a3a3a"/>
<circle cx="174.59" cy="71.22" r="0.45" fill="#3a3a3a"/>
<circle cx="192.71" cy="67.13" r="0.45" fill="#3a3a3a"/>
<circle cx="194.71" cy="73.53" r="0.45" fill="#3a3a3a"/>
<circle cx="189.74" cy="64.42" r="0.45" fill="#3a3a3a"/>
<circle cx="193.43" cy="65.39" r="0.45" fill="#3a3a3a"/>
<circle cx="190.94" cy="65.15" r="0.45" fill="#3a3a3a"/>
<circle cx="176.12" cy="69.70" r="0.45" fill="#3a3a3a"/>
<circle cx="190.81" cy="77.17" r="0.45" fill="#3a3a3a"/>
<circle cx="184.34" cy="69.69" r="0.45" fill="#3a3a3a"/>
<circle cx="193.30" cy="71.38" r="0.45" fill="#3a3a3a"/>
<circle cx="197.05" cy="88.92" r="0.45" fill="#3a3a3a"/>
<circle cx="184.15" cy="51.75" r="0.45" fill="#3a3a3a"/>
<circle cx="194.74" cy="84.53" r="0.45" fill="#3a3a3a"/>
<circle cx="195.13" cy="77.73" r="0.45" fill="#3a3a3a"/>
<circle cx="185.89" cy="63.22" r="0.45" fill="#3a3a3a"/>
<circle cx="194.93" cy="61.34" r="0.45" fill="#3a3a3a"/>
<circle cx="178.72" cy="60.52" r="0.45" fill="#3a3a3a"/>
<circle cx="185.48" cy="63.07" r="0.45" fill="#3a3a3a"/>
<circle cx="190.99" cy="62.88" r="0.45" fill="#3a3a3a"/>
<circle cx="197.46" cy="69.26" r="0.45" fill="#3a3a3a"/>
<circle cx="183.08" cy="82.43" r="0.45" fill="#3a3a3a"/>
<circle cx="186.10" cy="72.10" r="0.45" fill="#3a3a3a"/>
<circle cx="189.52" cy="67.01" r="0.45" fill="#3a3a3a"/>
<circle cx="191.55" cy="63.42" r="0.45" fill="#3a3a3a"/>
<circle cx="178.53" cy="49.02" r="0.45" fill="#3a3a3a"/>
<circle cx="182.00" cy="62.79" r="0.45" fill="#3a3a3a"/>
<circle cx="189.46" cy="70.53" r="0.45" fill="#3a3a3a"/>
<circle cx="192.94" cy="71.14" r="0.45" fill="#3a3a3a"/>
<circle cx="184.84" cy="63.27" r="0.45" fill="#3a3a3a"/>
<circle cx="176.89" cy="68.39" r="0.45" fill="#3a3a3a"/>
<circle cx="192.51" cy="75.03" r="0.45" fill="#3a3a3a"/>
<circle cx="188.87" cy="68.35" r="0.45" fill="#3a3a3a"/>
<circle cx="195.22" cy="70.15" r="0.45" fill="#3a3a3a"/>
<circle cx="194.03" cy="75.53" r="0.45" fill="#3a3a3a"/>
<circle cx="190.88" cy="82.41" r="0.45" fill="#3a3a3a"/>
<circle cx="186.16" cy="66.59" r="0.45" fill="#3a3a3a"/>
<circle cx="184.75" cy="62.43" r="0.45" fill="#3a3a3a"/>
<circle cx="198.94" cy="86.71" r="0.45" fill="#3a3a3a"/>
<circle cx="189.74" cy="75.40" r="0.45" fill="#3a3a3a"/>
<circle cx="196.65" cy="77.67" r="0.45" fill="#3a3a3a"/>
<circle cx="196.83" cy="58.00" r="0.45" fill="#3a3a3a"/>
<circle cx="185.76" cy="74.30" r="0.45" fill="#3a3a3a"/>
<circle cx="198.21" cy="70.99" r="0.45" fill="#3a3a3a"/>
<circle cx="184.45" cy="66.63" r="0.45" fill="#3a3a3a"/>
<circle cx="185.64" cy="61.85" r="0.45" fill="#3a3a3a"/>
<circle cx="198.61" cy="64.06" r="0.45" fill="#3a3a3a"/>
<circle cx="196.71" cy="73.19" r="0.45" fill="#3a3a3a"/>
<circle cx="185.93" cy="73.90" r="0.45" fill="#3a3a3a"/>
<circle cx="199.33" cy="75.92" r="0.45" fill="#3a3a3a"/>
<circle cx="197.17" cy="70.93" r="0.45" fill="#3a3a3a"/>
<circle cx="192.70" cy="68.09" r="0.45" fill="#3a3a3a"/>
<circle cx="192.16" cy="82.35" r="0.45" fill="#3a3a3a"/>
<circle cx="181.01" cy="69.41" r="0.45" fill="#3a3a3a"/>
<circle cx="191.04" cy="64.57" r="0.45" fill="#3a3a3a"/>
<circle cx="187.75" cy="77.48" r="0.45" fill="#3a3a3a"/>
<circle cx="201.61" cy="75.98" r="0.45" fill="#3a3a3a"/>
<circle cx="191.56" cy="55.26" r="0.45" fill="#3a3a3a"/>
<circle cx="201.17" cy="70.73" r="0.45" fill="#3a3a3a"/>
<circle cx="189.40" cy="59.38" r="0.45" fill="#3a3a3a"/>
<circle cx="189.26" cy="59.59" r="0.45" fill="#3a3a3a"/>
<circle cx="190.03" cy="74.43" r="0.45" fill="#3a3a3a"/>
<circle cx="189.79" cy="72.66" r="0.45" fill="#3a3a3a"/>
<circle cx="184.49" cy="83.58" r="0.45" fill="#3a3a3a"/>
<circle cx="185.68" cy="52.73" r="0.45" fill="#3a3a3a"/>
<circle cx="188.47" cy="62.74" r="0.45" fill="#3a3a3a"/>
<circle cx="183.54" cy="66.63" r="0.45" fill="#3a3a3a"/>
<circle cx="191.35" cy="58.77" r="0.45" fill="#3a3a3a"/>
<circle cx="188.77" cy="83.55" r="0.45" fill="#3a3a3a"/>
<circle cx="193.70" cy="68.56" r="0.45" fill="#3a3a3a"/>
<circle cx="190.37" cy="68.86" r="0.45" fill="#3a3a3a"/>
<circle cx="189.31" cy="76.96" r="0.45" fill="#3a3a3a"/>
<circle cx="189.47" cy="61.55" r="0.45" fill="#3a3a3a"/>
<circle cx="193.51" cy="64.20" r="0.45" fill="#3a3a3a"/>
<circle cx="183.32" cy="59.32" r="0.45" fill="#3a3a3a"/>
<circle cx="178.33" cy="73.46" r="0.45" fill="#3a3a3a"/>
<circle cx="185.77" cy="52.25" r="0.45" fill="#3a3a3a"/>
<circle cx="180.70" cy="75.86" r="0.45" fill="#3a3a3a"/>
<circle cx="184.95" cy="66.51" r="0.45" fill="#3a3a3a"/>
<circle cx="191.58" cy="82.89" r="0.45" fill="#3a3a3a"/>
<circle cx="201.25" cy="79.81" r="0.45" fill="#3a3a3a"/>
<circle cx="190.46" cy="71.75" r="0.45" fill="#3a3a3a"/>
<circle cx="200.41" cy="83.57" r="0.45" fill="#3a3a3a"/>
<circle cx="187.74" cy="74.35" r="0.45" fill="#3a3a3a"/>
<circle cx="191.32" cy="70.50" r="0.45" fill="#3a3a3a"/>
<circle cx="186.60" cy="57.40" r="0.45" fill="#3a3a3a"/>
<circle cx="186.40" cy="55.33" r="0.45" fill="#3a3a3a"/>
<circle cx="196.94" cy="75.10" r="0.45" fill="#3a3a3a"/>
<circle cx="182.36" cy="83.26" r="0.45" fill="#3a3a3a"/>
<circle cx="194.95" cy="51.87" r="0.45" fill="#3a3a3a"/>
<circle cx="200.65" cy="77.69" r="0.45" fill="#3a3a3a"/>
<circle cx="201.99" cy="58.30" r="0.45" fill="#3a3a3a"/>
<circle cx="192.78" cy="74.02" r="0.45" fill="#3a3a3a"/>
<circle cx="190.81" cy="71.63" r="0.45" fill="#3a3a3a"/>
<circle cx="195.92" cy="55.80" r="0.45" fill="#3a3a3a"/>
<circle cx="182.15" cy="56.76" r="0.45" fill="#3a3a3a"/>
<circle cx="186.25" cy="64.25" r="0.45" fill="#3a3a3a"/>
<circle cx="191.80" cy="72.53" r="0.45" fill="#3a3a3a"/>
<circle cx="189.79" cy="63.57" r="0.45" fill="#3a3a3a"/>
<circle cx="186.95" cy="79.05" r="0.45" fill="#3a3a3a"/>
<circle cx="194.18" cy="70.96" r="0.45" fill="#3a3a3a"/>
<circle cx="187.66" cy="84.75" r="0.45" fill="#3a3a3a"/>
<circle cx="186.04" cy="76.16" r="0.45" fill="#3a3a3a"/>
<circle cx="196.52" cy="67.48" r="0.45" fill="#3a3a3a"/>
<circle cx="194.55" cy="59.40" r="0.45" fill="#3a3a3a"/>
<circle cx="195.68" cy="71.90" r="0.45" fill="#3a3a3a"/>
<circle cx="180.08" cy="76.36" r="0.45" fill="#3a3a3a"/>
<circle cx="184.25" cy="82.18" r="0.45" fill="#3a3a3a"/>
<circle cx="185.53" cy="68.44" r="0.45" fill="#3a3a3a"/>
<circle cx="191.30" cy="66.84" r="0.45" fill="#3a3a3a"/>
<circle cx="191.16" cy="64.74" r="0.45" fill="#3a3a3a"/>
<circle cx="193.63" cy="70.05" r="0.45" fill="#3a3a3a"/>
<circle cx="196.57" cy="70.30" r="0.45" fill="#3a3a3a"/>
<circle cx="178.90" cy="70.91" r="0.45" fill="#3a3a3a"/>
<circle cx="192.40" cy="80.17" r="0.45" fill="#3a3a3a"/>
<circle cx="183.10" cy="84.70" r="0.45" fill="#3a3a3a"/>
<circle cx="188.72" cy="76.46" r="0.45" fill="#3a3a3a"/>
<circle cx="187.40" cy="59.40" r="0.45" fill="#3a3a3a"/>
<circle cx="196.18" cy="78.61" r="0.45" fill="#3a3a3a"/>
<circle cx="198.83" cy="78.14" r="0.45" fill="#3a3a3a"/>
<circle cx="186.16" cy="54.21" r="0.45" fill="#3a3a3a"/>
<circle cx="185.70" cy="63.59" r="0.45" fill="#3a3a3a"/>
<circle cx="184.71" cy="75.53" r="0.45" fill="#3a3a3a"/>
<circle cx="191.57" cy="67.44" r="0.45" fill="#3a3a3a"/>
<circle cx="190.64" cy="68.62" r="0.45" fill="#3a3a3a"/>
<circle cx="190.88" cy="77.14" r="0.45" fill="#3a3a3a"/>
<circle cx="195.36" cy="63.48" r="0.45" fill="#3a3a3a"/>
<circle cx="180.56" cy="83.56" r="0.45" fill="#3a3a3a"/>
<circle cx="190.29" cy="80.50" r="0.45" fill="#3a3a3a"/>
<circle cx="179.74" cy="66.87" r="0.45" fill="#3a3a3a"/>
<circle cx="189.76" cy="56.31" r="0.45" fill="#3a3a3a"/>
<circle cx="186.50" cy="76.88" r="0.45" fill="#3a3a3a"/>
<circle cx="196.07" cy="85.14" r="0.45" fill="#3a3a3a"/>
<circle cx="184.42" cy="56.69" r="0.45" fill="#3a3a3a"/>
<circle cx="192.72" cy="78.93" r="0.45" fill="#3a3a3a"/>
<circle cx="190.76" cy="57.64" r="0.45" fill="#3a3a3a"/>
<circle cx="194.29" cy="77.53" r="0.45" fill="#3a3a3a"/>
<circle cx="192.92" cy="65.37" r="0.45" fill="#3a3a3a"/>
<circle cx="191.42" cy="77.51" r="0.45" fill="#3a3a3a"/>
<circle cx="186.25" cy="52.48" r="0.45" fill="#3a3a3a"/>
<circle cx="191.57" cy="74.57" r="0.45" fill="#3a3a3a"/>
<circle cx="189.68" cy="78.45" r="0.45" fill="#3a3a3a"/>
<circle cx="186.08" cy="69.22" r="0.45" fill="#3a3a3a"/>
<circle cx="187.77" cy="75.43" r="0.45" fill="#3a3a3a"/>
<circle cx="199.17" cy="67.61" r="0.45" fill="#3a3a3a"/>
<circle cx="201.93" cy="84.53" r="0.45" fill="#3a3a3a"/>
<circle cx="194.34" cy="75.58" r="0.45" fill="#3a3a3a"/>
<circle cx="200.22" cy="68.29" r="0.45" fill="#3a3a3a"/>
<circle cx="188.93" cy="59.91" r="0.45" fill="#3a3a3a"/>
<circle cx="192.44" cy="82.78" r="0.45" fill="#3a3a3a"/>
<circle cx="192.79" cy="74.02" r="0.45" fill="#3a3a3a"/>
<circle cx="188.40" cy="71.61" r="0.45" fill="#3a3a3a"/>
<circle cx="181.05" cy="79.96" r="0.45" fill="#3a3a3a"/>
<circle cx="187.14" cy="59.51" r="0.45" fill="#3a3a3a"/>
<circle cx="185.09" cy="62.17" r="0.45" fill="#3a3a3a"/>
<circle cx="194.73" cy="80.05" r="0.45" fill="#3a3a3a"/>
<circle cx="181.45" cy="78.80" r="0.45" fill="#3a3a3a"/>
<circle cx="194.93" cy="64.50" r="0.45" fill="#3a3a3a"/>
<circle cx="180.68" cy="62.92" r="0.45" fill="#3a3a3a"/>
<circle cx="185.80" cy="73.25" r="0.45" fill="#3a3a3a"/>
<circle cx="187.45" cy="50.73" r="0.45" fill="#3a3a3a"/>
<circle cx="191.00" cy="55.42" r="0.45" fill="#3a3a3a"/>
<circle cx="195.03" cy="58.53" r="0.45" fill="#3a3a3a"/>
<circle cx="185.44" cy="61.88" r="0.45" fill="#3a3a3a"/>
<circle cx="186.34" cy="82.33" r="0.45" fill="#3a3a3a"/>
<circle cx="194.71" cy="75.72" r="0.45" fill="#3a3a3a"/>
<circle cx="191.52" cy="55.30" r="0.45" fill="#3a3a3a"/>
<circle cx="186.48" cy="64.76" r="0.45" fill="#3a3a3a"/>
<circle cx="183.74" cy="74.84" r="0.45" fill="#3a3a3a"/>
<circle cx="185.15" cy="63.26" r="0.45" fill="#3a3a3a"/>
<circle cx="183.33" cy="50.45" r="0.45" fill="#3a3a3a"/>
<circle cx="193.17" cy="82.64" r="0.45" fill="#3a3a3a"/>
<circle cx="190.65" cy="60.72" r="0.45" fill="#3a3a3a"/>
<circle cx="173.37" cy="71.64" r="0.45" fill="#3a3a3a"/>
<circle cx="196.90" cy="72.82" r="0.45" fill="#3a3a3a"/>
<circle cx="195.16" cy="84.04" r="0.45" fill="#3a3a3a"/>
<circle cx="196.36" cy="65.81" r="0.45" fill="#3a3a3a"/>
<circle cx="195.91" cy="77.37" r="0.45" fill="#3a3a3a"/>
<circle cx="180.38" cy="66.15" r="0.45" fill="#3a3a3a"/>
<circle cx="181.06" cy="68.96" r="0.45" fill="#3a3a3a"/>
<circle cx="193.07" cy="59.85" r="0.45" fill="#3a3a3a"/>
<circle cx="177.27" cy="82.33" r="0.45" fill="#3a3a3a"/>
<circle cx="191.86" cy="83.98" r="0.45" fill="#3a3a3a"/>
<circle cx="181.66" cy="80.08" r="0.45" fill="#3a3a3a"/>
<circle cx="202.04" cy="89.07" r="0.45" fill="#3a3a3a"/>
<circle cx="188.34" cy="72.56" r="0.45" fill="#3a3a3a"/>
<circle cx="188.68" cy="79.49" r="0.45" fill="#3a3a3a"/>
<circle cx="195.83" cy="70.83" r="0.45" fill="#3a3a3a"/>
<circle cx="181.45" cy="77.04" r="0.45" fill="#3a3a3a"/>
<circle cx="186.78" cy="75.97" r="0.45" fill="#3a3a3a"/>
<circle cx="191.18" cy="85.42" r="0.45" fill="#3a3a3a"/>
<circle cx="196.43" cy="65.72" r="0.45" fill="#3a3a3a"/>
<circle cx="191.69" cy="86.76" r="0.45" fill="#3a3a3a"/>
<circle cx="186.38" cy="74.12" r="0.45" fill="#3a3a3a"/>
<circle cx="196.74" cy="81.94" r="0.45" fill="#3a3a3a"/>
<circle cx="192.71" cy="57.46" r="0.45" fill="#3a3a3a"/>
<circle cx="182.03" cy="72.35" r="0.45" fill="#3a3a3a"/>
<circle cx="170.75" cy="80.67" r="0.42" fill="#555"/>
<circle cx="177.28" cy="56.79" r="0.42" fill="#555"/>
<circle cx="170.93" cy="72.41" r="0.42" fill="#555"/>
<circle cx="172.23" cy="69.69" r="0.42" fill="#555"/>
<circle cx="176.08" cy="64.12" r="0.42" fill="#555"/>
<circle cx="176.07" cy="65.59" r="0.42" fill="#555"/>
<circle cx="172.02" cy="75.56" r="0.42" fill="#555"/>
<circle cx="171.91" cy="73.44" r="0.42" fill="#555"/>
<circle cx="173.62" cy="77.25" r="0.42" fill="#555"/>
<circle cx="172.74" cy="80.20" r="0.42" fill="#555"/>
<circle cx="169.07" cy="76.26" r="0.42" fill="#555"/>
<circle cx="172.15" cy="64.21" r="0.42" fill="#555"/>
<circle cx="173.73" cy="69.90" r="0.42" fill="#555"/>
<circle cx="172.51" cy="65.65" r="0.42" fill="#555"/>
<circle cx="175.98" cy="73.81" r="0.42" fill="#555"/>
<circle cx="174.91" cy="85.63" r="0.42" fill="#555"/>
<circle cx="172.89" cy="75.02" r="0.42" fill="#555"/>
<circle cx="168.78" cy="61.67" r="0.42" fill="#555"/>
<circle cx="170.05" cy="55.31" r="0.42" fill="#555"/>
<circle cx="176.01" cy="55.22" r="0.42" fill="#555"/>
<circle cx="176.20" cy="83.35" r="0.42" fill="#555"/>
<circle cx="167.74" cy="68.31" r="0.42" fill="#555"/>
<circle cx="166.53" cy="77.62" r="0.42" fill="#555"/>
<circle cx="171.25" cy="68.74" r="0.42" fill="#555"/>
<circle cx="174.42" cy="75.63" r="0.42" fill="#555"/>
<circle cx="172.81" cy="71.13" r="0.42" fill="#555"/>
<circle cx="172.01" cy="71.97" r="0.42" fill="#555"/>
<circle cx="169.51" cy="71.54" r="0.42" fill="#555"/>
<circle cx="166.47" cy="66.83" r="0.42" fill="#555"/>
<circle cx="169.16" cy="73.19" r="0.42" fill="#555"/>
<circle cx="170.31" cy="56.96" r="0.42" fill="#555"/>
<circle cx="171.25" cy="77.26" r="0.42" fill="#555"/>
<circle cx="175.74" cy="70.18" r="0.42" fill="#555"/>
<circle cx="170.49" cy="61.83" r="0.42" fill="#555"/>
<circle cx="170.39" cy="53.06" r="0.42" fill="#555"/>
<circle cx="169.60" cy="70.35" r="0.42" fill="#555"/>
<circle cx="175.04" cy="69.66" r="0.42" fill="#555"/>
<circle cx="173.09" cy="59.33" r="0.42" fill="#555"/>
<circle cx="170.00" cy="85.35" r="0.42" fill="#555"/>
<circle cx="171.17" cy="78.19" r="0.42" fill="#555"/>
<circle cx="167.42" cy="68.67" r="0.42" fill="#555"/>
<circle cx="175.24" cy="79.81" r="0.42" fill="#555"/>
<circle cx="169.71" cy="76.06" r="0.42" fill="#555"/>
<circle cx="175.74" cy="64.73" r="0.42" fill="#555"/>
<circle cx="176.11" cy="63.37" r="0.42" fill="#555"/>
<circle cx="171.02" cy="70.84" r="0.42" fill="#555"/>
<circle cx="170.20" cy="58.57" r="0.42" fill="#555"/>
<circle cx="172.50" cy="77.49" r="0.42" fill="#555"/>
<circle cx="172.58" cy="81.76" r="0.42" fill="#555"/>
<circle cx="169.56" cy="59.85" r="0.42" fill="#555"/>
<circle cx="177.98" cy="63.97" r="0.42" fill="#555"/>
<circle cx="177.42" cy="73.21" r="0.42" fill="#555"/>
<circle cx="176.79" cy="71.22" r="0.42" fill="#555"/>
<circle cx="170.34" cy="58.44" r="0.42" fill="#555"/>
<circle cx="170.03" cy="63.01" r="0.42" fill="#555"/>
<circle cx="172.42" cy="60.19" r="0.42" fill="#555"/>
<circle cx="173.04" cy="65.67" r="0.42" fill="#555"/>
<circle cx="171.99" cy="62.84" r="0.42" fill="#555"/>
<circle cx="174.35" cy="67.08" r="0.42" fill="#555"/>
<circle cx="174.66" cy="73.12" r="0.42" fill="#555"/>
<circle cx="175.56" cy="52.39" r="0.42" fill="#555"/>
<circle cx="172.06" cy="64.23" r="0.42" fill="#555"/>
<circle cx="177.30" cy="57.59" r="0.42" fill="#555"/>
<circle cx="171.34" cy="68.50" r="0.42" fill="#555"/>
<circle cx="172.86" cy="79.43" r="0.42" fill="#555"/>
<circle cx="172.43" cy="79.20" r="0.42" fill="#555"/>
<circle cx="168.34" cy="55.60" r="0.42" fill="#555"/>
<circle cx="176.15" cy="72.05" r="0.42" fill="#555"/>
<circle cx="176.14" cy="60.67" r="0.42" fill="#555"/>
<circle cx="177.99" cy="66.48" r="0.42" fill="#555"/>
<circle cx="178.14" cy="71.75" r="0.42" fill="#555"/>
<circle cx="166.31" cy="60.06" r="0.42" fill="#555"/>
<circle cx="172.62" cy="73.06" r="0.42" fill="#555"/>
<circle cx="172.50" cy="66.37" r="0.42" fill="#555"/>
<circle cx="174.61" cy="72.23" r="0.42" fill="#555"/>
<circle cx="174.72" cy="72.17" r="0.42" fill="#555"/>
<circle cx="173.63" cy="64.79" r="0.42" fill="#555"/>
<circle cx="173.93" cy="65.55" r="0.42" fill="#555"/>
<circle cx="172.41" cy="54.72" r="0.42" fill="#555"/>
<circle cx="173.99" cy="67.46" r="0.42" fill="#555"/>
<circle cx="169.86" cy="61.34" r="0.42" fill="#555"/>
<circle cx="174.08" cy="69.74" r="0.42" fill="#555"/>
<circle cx="174.87" cy="67.84" r="0.42" fill="#555"/>
<circle cx="171.78" cy="83.74" r="0.42" fill="#555"/>
<circle cx="187.85" cy="55.06" r="0.42" fill="#444"/>
<circle cx="185.20" cy="56.93" r="0.42" fill="#444"/>
<circle cx="182.63" cy="56.13" r="0.42" fill="#444"/>
<circle cx="195.08" cy="57.82" r="0.42" fill="#444"/>
<circle cx="184.90" cy="57.18" r="0.42" fill="#444"/>
<circle cx="186.03" cy="53.49" r="0.42" fill="#444"/>
<circle cx="182.98" cy="57.31" r="0.42" fill="#444"/>
<circle cx="197.84" cy="53.81" r="0.42" fill="#444"/>
<circle cx="185.80" cy="54.32" r="0.42" fill="#444"/>
<circle cx="202.14" cy="57.01" r="0.42" fill="#444"/>
<circle cx="186.89" cy="51.41" r="0.42" fill="#444"/>
<circle cx="186.24" cy="57.37" r="0.42" fill="#444"/>
<circle cx="198.94" cy="54.47" r="0.42" fill="#444"/>
<circle cx="186.14" cy="53.98" r="0.42" fill="#444"/>
<circle cx="184.17" cy="57.13" r="0.42" fill="#444"/>
<circle cx="181.06" cy="52.46" r="0.42" fill="#444"/>
<circle cx="191.04" cy="53.47" r="0.42" fill="#444"/>
<circle cx="193.51" cy="55.02" r="0.42" fill="#444"/>
<circle cx="183.73" cy="56.24" r="0.42" fill="#444"/>
<circle cx="193.81" cy="51.17" r="0.42" fill="#444"/>
<circle cx="198.73" cy="55.99" r="0.42" fill="#444"/>
<circle cx="193.40" cy="51.28" r="0.42" fill="#444"/>
<circle cx="186.00" cy="54.30" r="0.42" fill="#444"/>
<circle cx="194.99" cy="52.08" r="0.42" fill="#444"/>
<circle cx="185.18" cy="50.94" r="0.42" fill="#444"/>
<circle cx="188.39" cy="55.69" r="0.42" fill="#444"/>
<circle cx="181.17" cy="53.82" r="0.42" fill="#444"/>
<circle cx="192.15" cy="58.17" r="0.42" fill="#444"/>
<circle cx="192.92" cy="54.39" r="0.42" fill="#444"/>
<circle cx="183.71" cy="53.13" r="0.42" fill="#444"/>
<circle cx="186.28" cy="55.29" r="0.42" fill="#444"/>
<circle cx="189.35" cy="58.33" r="0.42" fill="#444"/>
<circle cx="191.04" cy="52.86" r="0.42" fill="#444"/>
<circle cx="197.32" cy="56.90" r="0.42" fill="#444"/>
<circle cx="190.11" cy="53.56" r="0.42" fill="#444"/>
<circle cx="180.25" cy="52.96" r="0.42" fill="#444"/>
<circle cx="194.16" cy="53.39" r="0.42" fill="#444"/>
<circle cx="183.00" cy="55.39" r="0.42" fill="#444"/>
<circle cx="190.82" cy="56.21" r="0.42" fill="#444"/>
<path transform="translate(164.20,0)" d="M15.6,58 C14.6,66 15.4,76 21.5,84.5 C23.5,86.5 27,86.5 29,84.5 C35.2,76 36.4,66 35.6,58 C31.5,53.5 19.5,53.5 15.6,58 Z" fill="none" stroke="#2a2a2a" stroke-width="0.9"/>
<path transform="translate(164.20,0)" d="M18.5,60 C17.8,67 18.6,75 22.8,81 C24.5,82.8 26.5,82.8 28.2,81 C32.4,75 33.2,67 32.6,60 C29.5,56.5 21.5,56.5 18.5,60 Z" fill="none" stroke="#333" stroke-width="0.7"/>
<path transform="translate(164.20,0)" d="M21.5,63 C21,68 22,73 24.5,76.5 C25.5,77.3 26.3,77.3 27.2,76.5 C29.6,73 30.4,68 29.8,63 C27.8,61 23.5,61 21.5,63 Z" fill="none" stroke="#555" stroke-width="0.6"/>
<path transform="translate(164.20,0)" d="M19.5,64.5 l2,2.5 l2,-2.5 l2,2.5 l2,-2.5 l2,2.5 l2,-2.5" fill="none" stroke="#222" stroke-width="0.7"/>
<rect x="164.20" y="33.9" width="56.8" height="57.30" fill="none" stroke="#333" stroke-width="1.3"/>
<line x1="178.50" y1="33.90" x2="178.50" y2="91.20" stroke="#4a4a4a" stroke-width="0.9" />
<line x1="164.20" y1="76.20" x2="221.00" y2="76.20" stroke="#4a4a4a" stroke-width="0.9" />
<rect x="180.40" y="50.9" width="22.20" height="24.10" fill="none" stroke="#444" stroke-width="0.8"/>
<line x1="180.40" y1="59.90" x2="202.60" y2="59.90" stroke="#333" stroke-width="0.8" />
<line x1="180.40" y1="67.60" x2="202.60" y2="67.60" stroke="#111" stroke-width="1.6" />
<rect x="180.00" y="77.20" width="22.60" height="13.10" fill="none" stroke="#444" stroke-width="0.7"/>
<text x="206.50" y="57.30" font-size="4.6" font-weight="bold" text-anchor="start" fill="#222" textLength="5.4" lengthAdjust="spacingAndGlyphs">R6</text>
<text x="206.50" y="65.20" font-size="4.6" font-weight="bold" text-anchor="start" fill="#222" textLength="5.4" lengthAdjust="spacingAndGlyphs">R5</text>
<text x="206.50" y="73.30" font-size="4.6" font-weight="bold" text-anchor="start" fill="#222" textLength="5.4" lengthAdjust="spacingAndGlyphs">R4</text>
<text x="206.50" y="86.80" font-size="4.6" font-weight="bold" text-anchor="start" fill="#222" textLength="5.4" lengthAdjust="spacingAndGlyphs">R3</text>
<text transform="translate(242.90,59.70) rotate(-90)" font-size="6.5" font-weight="bold" text-anchor="middle">Percent Ki-67 expressing</text>
<text transform="translate(250.80,59.10) rotate(-90)" font-size="6.5" font-weight="bold" text-anchor="middle">CLL cells</text>
<line x1="263.20" y1="19.00" x2="263.20" y2="102.30" stroke="#000" stroke-width="1.5" />
<line x1="260.60" y1="19.60" x2="263.20" y2="19.60" stroke="#000" stroke-width="1.2" />
<text x="260.30" y="24.10" font-size="6.4" font-weight="bold" text-anchor="end" >80</text>
<line x1="260.60" y1="40.10" x2="263.20" y2="40.10" stroke="#000" stroke-width="1.2" />
<text x="260.30" y="44.60" font-size="6.4" font-weight="bold" text-anchor="end" >60</text>
<line x1="260.60" y1="60.60" x2="263.20" y2="60.60" stroke="#000" stroke-width="1.2" />
<text x="260.30" y="65.10" font-size="6.4" font-weight="bold" text-anchor="end" >40</text>
<line x1="260.60" y1="81.10" x2="263.20" y2="81.10" stroke="#000" stroke-width="1.2" />
<text x="260.30" y="85.60" font-size="6.4" font-weight="bold" text-anchor="end" >20</text>
<line x1="260.60" y1="101.60" x2="263.20" y2="101.60" stroke="#000" stroke-width="1.2" />
<text x="260.30" y="106.10" font-size="6.4" font-weight="bold" text-anchor="end" >0</text>
<line x1="262.50" y1="101.60" x2="371.60" y2="101.60" stroke="#000" stroke-width="1.5" />
<text x="265.60" y="110.10" font-size="6.4" font-weight="bold">CD38<tspan font-size="4" dy="-2.1">neg</tspan></text>
<text x="294.90" y="110.10" font-size="6.4" font-weight="bold">CD38<tspan font-size="4" dy="-2.1">lo</tspan></text>
<text x="321.40" y="110.10" font-size="6.4" font-weight="bold">CD38<tspan font-size="4" dy="-2.1">int</tspan></text>
<text x="348.90" y="110.10" font-size="6.4" font-weight="bold">CD38<tspan font-size="4" dy="-2.1">hi</tspan></text>
<circle cx="268.50" cy="98.01" r="0.95" fill="#555" stroke="#000" stroke-width="0.8"/>
<circle cx="271.00" cy="99.04" r="0.95" fill="#555" stroke="#000" stroke-width="0.8"/>
<circle cx="273.00" cy="94.94" r="0.95" fill="#555" stroke="#000" stroke-width="0.8"/>
<circle cx="275.50" cy="99.04" r="0.95" fill="#555" stroke="#000" stroke-width="0.8"/>
<circle cx="278.00" cy="96.99" r="0.95" fill="#555" stroke="#000" stroke-width="0.8"/>
<circle cx="280.50" cy="98.01" r="0.95" fill="#555" stroke="#000" stroke-width="0.8"/>
<circle cx="283.00" cy="96.47" r="0.95" fill="#555" stroke="#000" stroke-width="0.8"/>
<circle cx="284.80" cy="98.73" r="0.95" fill="#555" stroke="#000" stroke-width="0.8"/>
<circle cx="270.00" cy="100.06" r="0.95" fill="#555" stroke="#000" stroke-width="0.8"/>
<circle cx="274.50" cy="100.37" r="0.95" fill="#555" stroke="#000" stroke-width="0.8"/>
<circle cx="279.50" cy="100.06" r="0.95" fill="#555" stroke="#000" stroke-width="0.8"/>
<circle cx="283.50" cy="100.37" r="0.95" fill="#555" stroke="#000" stroke-width="0.8"/>
<circle cx="272.50" cy="97.50" r="0.95" fill="#555" stroke="#000" stroke-width="0.8"/>
<circle cx="277.00" cy="98.52" r="0.95" fill="#555" stroke="#000" stroke-width="0.8"/>
<line x1="267.50" y1="99.34" x2="286.50" y2="99.34" stroke="#000" stroke-width="1.1" />
<path d="M303.70,37.07 L305.10,39.59 L302.30,39.59 Z" fill="#000" stroke="#000" stroke-width="0.5"/>
<path d="M303.80,84.01 L305.20,86.53 L302.40,86.53 Z" fill="#000" stroke="#000" stroke-width="0.5"/>
<path d="M296.20,89.24 L297.60,91.76 L294.80,91.76 Z" fill="#000" stroke="#000" stroke-width="0.5"/>
<path d="M299.80,91.19 L301.20,93.71 L298.40,93.71 Z" fill="#000" stroke="#000" stroke-width="0.5"/>
<path d="M307.50,92.01 L308.90,94.53 L306.10,94.53 Z" fill="#000" stroke="#000" stroke-width="0.5"/>
<path d="M310.50,90.98 L311.90,93.50 L309.10,93.50 Z" fill="#000" stroke="#000" stroke-width="0.5"/>
<path d="M304.20,92.83 L305.60,95.35 L302.80,95.35 Z" fill="#000" stroke="#000" stroke-width="0.5"/>
<path d="M296.20,94.26 L297.60,96.78 L294.80,96.78 Z" fill="#000" stroke="#000" stroke-width="0.5"/>
<path d="M299.20,93.65 L300.60,96.17 L297.80,96.17 Z" fill="#000" stroke="#000" stroke-width="0.5"/>
<path d="M302.20,94.26 L303.60,96.78 L300.80,96.78 Z" fill="#000" stroke="#000" stroke-width="0.5"/>
<path d="M305.20,93.65 L306.60,96.17 L303.80,96.17 Z" fill="#000" stroke="#000" stroke-width="0.5"/>
<path d="M308.20,94.26 L309.60,96.78 L306.80,96.78 Z" fill="#000" stroke="#000" stroke-width="0.5"/>
<path d="M311.20,93.65 L312.60,96.17 L309.80,96.17 Z" fill="#000" stroke="#000" stroke-width="0.5"/>
<path d="M295.20,97.95 L296.60,100.47 L293.80,100.47 Z" fill="#000" stroke="#000" stroke-width="0.5"/>
<path d="M298.00,97.95 L299.40,100.47 L296.60,100.47 Z" fill="#000" stroke="#000" stroke-width="0.5"/>
<path d="M300.80,97.95 L302.20,100.47 L299.40,100.47 Z" fill="#000" stroke="#000" stroke-width="0.5"/>
<path d="M303.60,97.95 L305.00,100.47 L302.20,100.47 Z" fill="#000" stroke="#000" stroke-width="0.5"/>
<path d="M306.40,97.95 L307.80,100.47 L305.00,100.47 Z" fill="#000" stroke="#000" stroke-width="0.5"/>
<path d="M309.20,97.95 L310.60,100.47 L307.80,100.47 Z" fill="#000" stroke="#000" stroke-width="0.5"/>
<path d="M312.00,97.95 L313.40,100.47 L310.60,100.47 Z" fill="#000" stroke="#000" stroke-width="0.5"/>
<line x1="294.50" y1="97.29" x2="313.00" y2="97.29" stroke="#000" stroke-width="1.1" />
<path d="M330.50,35.79 L331.95,38.40 L329.05,38.40 Z" fill="#777" stroke="#000" stroke-width="0.75"/>
<path d="M334.60,61.82 L336.05,64.44 L333.15,64.44 Z" fill="#777" stroke="#000" stroke-width="0.75"/>
<path d="M330.70,63.87 L332.15,66.48 L329.25,66.48 Z" fill="#777" stroke="#000" stroke-width="0.75"/>
<path d="M330.70,70.54 L332.15,73.15 L329.25,73.15 Z" fill="#777" stroke="#000" stroke-width="0.75"/>
<path d="M330.70,77.71 L332.15,80.32 L329.25,80.32 Z" fill="#777" stroke="#000" stroke-width="0.75"/>
<path d="M337.90,84.89 L339.35,87.50 L336.45,87.50 Z" fill="#777" stroke="#000" stroke-width="0.75"/>
<path d="M326.00,86.42 L327.45,89.03 L324.55,89.03 Z" fill="#777" stroke="#000" stroke-width="0.75"/>
<path d="M329.50,87.45 L330.95,90.06 L328.05,90.06 Z" fill="#777" stroke="#000" stroke-width="0.75"/>
<path d="M333.00,86.94 L334.45,89.55 L331.55,89.55 Z" fill="#777" stroke="#000" stroke-width="0.75"/>
<path d="M336.00,88.47 L337.45,91.08 L334.55,91.08 Z" fill="#777" stroke="#000" stroke-width="0.75"/>
<path d="M322.80,98.72 L324.25,101.33 L321.35,101.33 Z" fill="#777" stroke="#000" stroke-width="0.75"/>
<path d="M325.80,97.90 L327.25,100.51 L324.35,100.51 Z" fill="#777" stroke="#000" stroke-width="0.75"/>
<path d="M328.80,98.72 L330.25,101.33 L327.35,101.33 Z" fill="#777" stroke="#000" stroke-width="0.75"/>
<path d="M331.80,97.90 L333.25,100.51 L330.35,100.51 Z" fill="#777" stroke="#000" stroke-width="0.75"/>
<path d="M334.80,98.72 L336.25,101.33 L333.35,101.33 Z" fill="#777" stroke="#000" stroke-width="0.75"/>
<path d="M337.80,97.90 L339.25,100.51 L336.35,100.51 Z" fill="#777" stroke="#000" stroke-width="0.75"/>
<path d="M324.20,96.78 L325.65,99.39 L322.75,99.39 Z" fill="#777" stroke="#000" stroke-width="0.75"/>
<path d="M327.20,95.96 L328.65,98.57 L325.75,98.57 Z" fill="#777" stroke="#000" stroke-width="0.75"/>
<path d="M330.20,96.78 L331.65,99.39 L328.75,99.39 Z" fill="#777" stroke="#000" stroke-width="0.75"/>
<path d="M333.20,95.96 L334.65,98.57 L331.75,98.57 Z" fill="#777" stroke="#000" stroke-width="0.75"/>
<path d="M336.20,96.78 L337.65,99.39 L334.75,99.39 Z" fill="#777" stroke="#000" stroke-width="0.75"/>
<path d="M339.20,95.96 L340.65,98.57 L337.75,98.57 Z" fill="#777" stroke="#000" stroke-width="0.75"/>
<path d="M322.80,94.83 L324.25,97.44 L321.35,97.44 Z" fill="#777" stroke="#000" stroke-width="0.75"/>
<path d="M325.80,94.01 L327.25,96.62 L324.35,96.62 Z" fill="#777" stroke="#000" stroke-width="0.75"/>
<path d="M328.80,94.83 L330.25,97.44 L327.35,97.44 Z" fill="#777" stroke="#000" stroke-width="0.75"/>
<path d="M331.80,94.01 L333.25,96.62 L330.35,96.62 Z" fill="#777" stroke="#000" stroke-width="0.75"/>
<path d="M334.80,94.83 L336.25,97.44 L333.35,97.44 Z" fill="#777" stroke="#000" stroke-width="0.75"/>
<path d="M337.80,94.01 L339.25,96.62 L336.35,96.62 Z" fill="#777" stroke="#000" stroke-width="0.75"/>
<path d="M324.20,92.88 L325.65,95.49 L322.75,95.49 Z" fill="#777" stroke="#000" stroke-width="0.75"/>
<path d="M327.20,92.06 L328.65,94.67 L325.75,94.67 Z" fill="#777" stroke="#000" stroke-width="0.75"/>
<path d="M330.20,92.88 L331.65,95.49 L328.75,95.49 Z" fill="#777" stroke="#000" stroke-width="0.75"/>
<path d="M333.20,92.06 L334.65,94.67 L331.75,94.67 Z" fill="#777" stroke="#000" stroke-width="0.75"/>
<path d="M336.20,92.88 L337.65,95.49 L334.75,95.49 Z" fill="#777" stroke="#000" stroke-width="0.75"/>
<path d="M339.20,92.06 L340.65,94.67 L337.75,94.67 Z" fill="#777" stroke="#000" stroke-width="0.75"/>
<path d="M322.80,90.93 L324.25,93.54 L321.35,93.54 Z" fill="#777" stroke="#000" stroke-width="0.75"/>
<path d="M325.80,90.11 L327.25,92.72 L324.35,92.72 Z" fill="#777" stroke="#000" stroke-width="0.75"/>
<path d="M328.80,90.93 L330.25,93.54 L327.35,93.54 Z" fill="#777" stroke="#000" stroke-width="0.75"/>
<path d="M331.80,90.11 L333.25,92.72 L330.35,92.72 Z" fill="#777" stroke="#000" stroke-width="0.75"/>
<path d="M334.80,90.93 L336.25,93.54 L333.35,93.54 Z" fill="#777" stroke="#000" stroke-width="0.75"/>
<path d="M337.80,90.11 L339.25,92.72 L336.35,92.72 Z" fill="#777" stroke="#000" stroke-width="0.75"/>
<line x1="322.00" y1="92.58" x2="341.00" y2="92.58" stroke="#000" stroke-width="1.1" />
<circle cx="357.90" cy="38.97" r="1.3" fill="#000"/>
<circle cx="361.40" cy="48.81" r="1.3" fill="#000"/>
<circle cx="357.90" cy="50.55" r="1.3" fill="#000"/>
<circle cx="354.10" cy="59.68" r="1.3" fill="#000"/>
<circle cx="357.90" cy="61.83" r="1.3" fill="#000"/>
<circle cx="354.10" cy="67.26" r="1.3" fill="#000"/>
<circle cx="361.30" cy="68.80" r="1.3" fill="#000"/>
<circle cx="357.60" cy="70.85" r="1.3" fill="#000"/>
<circle cx="361.30" cy="72.90" r="1.3" fill="#000"/>
<circle cx="354.00" cy="74.44" r="1.3" fill="#000"/>
<circle cx="357.60" cy="75.46" r="1.3" fill="#000"/>
<circle cx="357.50" cy="85.20" r="1.3" fill="#000"/>
<circle cx="350.40" cy="88.79" r="1.3" fill="#000"/>
<circle cx="353.80" cy="88.48" r="1.3" fill="#000"/>
<circle cx="357.50" cy="89.30" r="1.3" fill="#000"/>
<circle cx="361.30" cy="88.79" r="1.3" fill="#000"/>
<circle cx="364.80" cy="88.79" r="1.3" fill="#000"/>
<circle cx="353.80" cy="90.02" r="1.3" fill="#000"/>
<circle cx="357.50" cy="92.78" r="1.3" fill="#000"/>
<circle cx="350.40" cy="95.86" r="1.3" fill="#000"/>
<circle cx="353.80" cy="96.99" r="1.3" fill="#000"/>
<circle cx="357.50" cy="96.99" r="1.3" fill="#000"/>
<circle cx="361.30" cy="96.37" r="1.3" fill="#000"/>
<circle cx="350.40" cy="90.53" r="1.3" fill="#000"/>
<circle cx="364.80" cy="90.53" r="1.3" fill="#000"/>
<circle cx="357.50" cy="91.14" r="1.3" fill="#000"/>
<circle cx="357.60" cy="97.91" r="1.3" fill="#000"/>
<line x1="349.30" y1="81.10" x2="366.60" y2="81.10" stroke="#000" stroke-width="1.2" />
<text transform="translate(389.80,59.70) rotate(-90)" font-size="6.5" font-weight="bold" text-anchor="middle">Percent Ki-67 expressing</text>
<text transform="translate(397.90,59.70) rotate(-90)" font-size="6.5" font-weight="bold" text-anchor="middle">CLL cells</text>
<line x1="412.90" y1="18.90" x2="412.90" y2="101.70" stroke="#000" stroke-width="1.5" />
<line x1="410.30" y1="19.50" x2="412.90" y2="19.50" stroke="#000" stroke-width="1.2" />
<text x="409.30" y="23.40" font-size="6.4" font-weight="bold" text-anchor="end" >25</text>
<line x1="410.30" y1="35.80" x2="412.90" y2="35.80" stroke="#000" stroke-width="1.2" />
<text x="409.30" y="39.70" font-size="6.4" font-weight="bold" text-anchor="end" >20</text>
<line x1="410.30" y1="52.10" x2="412.90" y2="52.10" stroke="#000" stroke-width="1.2" />
<text x="409.30" y="56.00" font-size="6.4" font-weight="bold" text-anchor="end" >15</text>
<line x1="410.30" y1="68.40" x2="412.90" y2="68.40" stroke="#000" stroke-width="1.2" />
<text x="409.30" y="72.30" font-size="6.4" font-weight="bold" text-anchor="end" >10</text>
<line x1="410.30" y1="84.70" x2="412.90" y2="84.70" stroke="#000" stroke-width="1.2" />
<text x="409.30" y="88.60" font-size="6.4" font-weight="bold" text-anchor="end" >5</text>
<line x1="410.30" y1="101.00" x2="412.90" y2="101.00" stroke="#000" stroke-width="1.2" />
<text x="409.30" y="104.90" font-size="6.4" font-weight="bold" text-anchor="end" >0</text>
<line x1="412.20" y1="101.00" x2="520.00" y2="101.00" stroke="#000" stroke-width="1.5" />
<line x1="426.55" y1="95.95" x2="426.55" y2="96.92" stroke="#000" stroke-width="1.0" />
<line x1="421.75" y1="95.95" x2="431.35" y2="95.95" stroke="#000" stroke-width="1.3" />
<rect x="418.00" y="96.92" width="17.10" height="4.08" fill="#fff" stroke="#000" stroke-width="1.2"/>
<text x="414.10" y="110.10" font-size="6.4" font-weight="bold">CD38<tspan font-size="4" dy="-2.1">neg</tspan></text>
<line x1="426.55" y1="101.00" x2="426.55" y2="102.60" stroke="#000" stroke-width="1.0" />
<line x1="453.20" y1="82.58" x2="453.20" y2="86.49" stroke="#000" stroke-width="1.0" />
<line x1="448.40" y1="82.58" x2="458.00" y2="82.58" stroke="#000" stroke-width="1.3" />
<rect x="444.50" y="86.49" width="17.40" height="14.51" fill="#2c2c2c" stroke="#000" stroke-width="1.2"/>
<text x="443.00" y="110.10" font-size="6.4" font-weight="bold">CD38<tspan font-size="4" dy="-2.1">lo</tspan></text>
<line x1="453.20" y1="101.00" x2="453.20" y2="102.60" stroke="#000" stroke-width="1.0" />
<line x1="479.40" y1="66.61" x2="479.40" y2="71.99" stroke="#000" stroke-width="1.0" />
<line x1="474.60" y1="66.61" x2="484.20" y2="66.61" stroke="#000" stroke-width="1.3" />
<rect x="470.90" y="71.99" width="17.00" height="29.01" fill="#c6c6c6" stroke="#000" stroke-width="1.2"/>
<text x="468.80" y="110.10" font-size="6.4" font-weight="bold">CD38<tspan font-size="4" dy="-2.1">int</tspan></text>
<line x1="479.40" y1="101.00" x2="479.40" y2="102.60" stroke="#000" stroke-width="1.0" />
<line x1="506.45" y1="27.00" x2="506.45" y2="35.15" stroke="#000" stroke-width="1.0" />
<line x1="501.65" y1="27.00" x2="511.25" y2="27.00" stroke="#000" stroke-width="1.3" />
<rect x="497.70" y="35.15" width="17.50" height="65.85" fill="#000" stroke="#000" stroke-width="1.2"/>
<text x="496.10" y="110.10" font-size="6.4" font-weight="bold">CD38<tspan font-size="4" dy="-2.1">hi</tspan></text>
<line x1="506.45" y1="101.00" x2="506.45" y2="102.60" stroke="#000" stroke-width="1.0" />
<text transform="translate(4.50,183.60) rotate(-90)" font-size="6.5" font-weight="bold" text-anchor="middle">Percent Ki-67 expressing</text>
<text transform="translate(12.60,183.60) rotate(-90)" font-size="6.5" font-weight="bold" text-anchor="middle">CLL cells</text>
<line x1="28.20" y1="140.40" x2="28.20" y2="232.00" stroke="#000" stroke-width="1.5" />
<line x1="25.60" y1="141.00" x2="28.20" y2="141.00" stroke="#000" stroke-width="1.2" />
<text x="22.90" y="145.20" font-size="6.4" font-weight="bold" text-anchor="end" >80</text>
<line x1="25.60" y1="163.57" x2="28.20" y2="163.57" stroke="#000" stroke-width="1.2" />
<text x="22.90" y="167.77" font-size="6.4" font-weight="bold" text-anchor="end" >60</text>
<line x1="25.60" y1="186.15" x2="28.20" y2="186.15" stroke="#000" stroke-width="1.2" />
<text x="22.90" y="190.35" font-size="6.4" font-weight="bold" text-anchor="end" >40</text>
<line x1="25.60" y1="208.73" x2="28.20" y2="208.73" stroke="#000" stroke-width="1.2" />
<text x="22.90" y="212.93" font-size="6.4" font-weight="bold" text-anchor="end" >20</text>
<line x1="25.60" y1="231.30" x2="28.20" y2="231.30" stroke="#000" stroke-width="1.2" />
<text x="22.90" y="235.50" font-size="6.4" font-weight="bold" text-anchor="end" >0</text>
<line x1="27.50" y1="231.30" x2="145.50" y2="231.30" stroke="#000" stroke-width="1.5" />
<text x="33.50" y="239.80" font-size="6.4" font-weight="bold">CD38<tspan font-size="4" dy="-2.1">neg</tspan></text>
<line x1="42.90" y1="231.30" x2="42.90" y2="232.90" stroke="#000" stroke-width="1.0" />
<text x="64.00" y="239.80" font-size="6.4" font-weight="bold">CD38<tspan font-size="4" dy="-2.1">lo</tspan></text>
<line x1="71.80" y1="231.30" x2="71.80" y2="232.90" stroke="#000" stroke-width="1.0" />
<text x="91.40" y="239.80" font-size="6.4" font-weight="bold">CD38<tspan font-size="4" dy="-2.1">int</tspan></text>
<line x1="100.00" y1="231.30" x2="100.00" y2="232.90" stroke="#000" stroke-width="1.0" />
<text x="120.50" y="239.80" font-size="6.4" font-weight="bold">CD38<tspan font-size="4" dy="-2.1">hi</tspan></text>
<line x1="128.60" y1="231.30" x2="128.60" y2="232.90" stroke="#000" stroke-width="1.0" />
<path d="M42.90,226.22 L71.80,161.32 L100.00,160.19" fill="none" stroke="#000" stroke-width="0.9"/>
<circle cx="42.90" cy="226.22" r="0.85" fill="#000"/>
<circle cx="71.80" cy="161.32" r="0.85" fill="#000"/>
<circle cx="100.00" cy="160.19" r="0.85" fill="#000"/>
<path d="M42.90,229.04 L71.80,213.80 L100.00,190.67 L128.60,162.45" fill="none" stroke="#000" stroke-width="0.9"/>
<circle cx="42.90" cy="229.04" r="0.85" fill="#000"/>
<circle cx="71.80" cy="213.80" r="0.85" fill="#000"/>
<circle cx="100.00" cy="190.67" r="0.85" fill="#000"/>
<path d="M127.10,161.25 L130.10,161.25 L128.60,163.65 Z" fill="#000"/>
<path d="M42.90,226.79 L71.80,215.50 L100.00,200.82 L128.60,173.73" fill="none" stroke="#000" stroke-width="0.9"/>
<circle cx="42.90" cy="226.79" r="0.85" fill="#000"/>
<circle cx="71.80" cy="215.50" r="0.85" fill="#000"/>
<circle cx="100.00" cy="200.82" r="0.85" fill="#000"/>
<path d="M127.10,172.53 L130.10,172.53 L128.60,174.93 Z" fill="#000"/>
<path d="M42.90,230.17 L71.80,227.91 L100.00,229.04 L128.60,173.73" fill="none" stroke="#000" stroke-width="0.9"/>
<circle cx="42.90" cy="230.17" r="0.85" fill="#000"/>
<circle cx="71.80" cy="227.91" r="0.85" fill="#000"/>
<circle cx="100.00" cy="229.04" r="0.85" fill="#000"/>
<path d="M127.10,172.53 L130.10,172.53 L128.60,174.93 Z" fill="#000"/>
<path d="M42.90,229.04 L71.80,225.66 L100.00,209.85 L128.60,180.51" fill="none" stroke="#000" stroke-width="0.9"/>
<circle cx="42.90" cy="229.04" r="0.85" fill="#000"/>
<circle cx="71.80" cy="225.66" r="0.85" fill="#000"/>
<circle cx="100.00" cy="209.85" r="0.85" fill="#000"/>
<path d="M127.10,179.31 L130.10,179.31 L128.60,181.71 Z" fill="#000"/>
<path d="M42.90,225.66 L71.80,222.27 L100.00,215.50 L128.60,185.02" fill="none" stroke="#000" stroke-width="0.9"/>
<circle cx="42.90" cy="225.66" r="0.85" fill="#000"/>
<circle cx="71.80" cy="222.27" r="0.85" fill="#000"/>
<circle cx="100.00" cy="215.50" r="0.85" fill="#000"/>
<path d="M127.10,183.82 L130.10,183.82 L128.60,186.22 Z" fill="#000"/>
<path d="M42.90,230.17 L71.80,226.79 L100.00,217.75 L128.60,188.41" fill="none" stroke="#000" stroke-width="0.9"/>
<circle cx="42.90" cy="230.17" r="0.85" fill="#000"/>
<circle cx="71.80" cy="226.79" r="0.85" fill="#000"/>
<circle cx="100.00" cy="217.75" r="0.85" fill="#000"/>
<path d="M127.10,187.21 L130.10,187.21 L128.60,189.61 Z" fill="#000"/>
<path d="M42.90,227.91 L71.80,224.53 L100.00,220.01 L128.60,191.79" fill="none" stroke="#000" stroke-width="0.9"/>
<circle cx="42.90" cy="227.91" r="0.85" fill="#000"/>
<circle cx="71.80" cy="224.53" r="0.85" fill="#000"/>
<circle cx="100.00" cy="220.01" r="0.85" fill="#000"/>
<path d="M127.10,190.59 L130.10,190.59 L128.60,192.99 Z" fill="#000"/>
<path d="M42.90,229.04 L71.80,227.91 L100.00,222.27 L128.60,194.05" fill="none" stroke="#000" stroke-width="0.9"/>
<circle cx="42.90" cy="229.04" r="0.85" fill="#000"/>
<circle cx="71.80" cy="227.91" r="0.85" fill="#000"/>
<circle cx="100.00" cy="222.27" r="0.85" fill="#000"/>
<path d="M127.10,192.85 L130.10,192.85 L128.60,195.25 Z" fill="#000"/>
<path d="M42.90,230.17 L71.80,229.04 L100.00,223.40 L128.60,196.31" fill="none" stroke="#000" stroke-width="0.9"/>
<circle cx="42.90" cy="230.17" r="0.85" fill="#000"/>
<circle cx="71.80" cy="229.04" r="0.85" fill="#000"/>
<circle cx="100.00" cy="223.40" r="0.85" fill="#000"/>
<path d="M127.10,195.11 L130.10,195.11 L128.60,197.51 Z" fill="#000"/>
<path d="M42.90,226.79 L71.80,223.40 L100.00,221.14 L128.60,198.57" fill="none" stroke="#000" stroke-width="0.9"/>
<circle cx="42.90" cy="226.79" r="0.85" fill="#000"/>
<circle cx="71.80" cy="223.40" r="0.85" fill="#000"/>
<circle cx="100.00" cy="221.14" r="0.85" fill="#000"/>
<path d="M127.10,197.37 L130.10,197.37 L128.60,199.77 Z" fill="#000"/>
<path d="M42.90,229.04 L71.80,226.79 L100.00,225.66 L128.60,200.82" fill="none" stroke="#000" stroke-width="0.9"/>
<circle cx="42.90" cy="229.04" r="0.85" fill="#000"/>
<circle cx="71.80" cy="226.79" r="0.85" fill="#000"/>
<circle cx="100.00" cy="225.66" r="0.85" fill="#000"/>
<path d="M127.10,199.62 L130.10,199.62 L128.60,202.02 Z" fill="#000"/>
<path d="M42.90,230.17 L71.80,227.91 L100.00,224.53 L128.60,203.08" fill="none" stroke="#000" stroke-width="0.9"/>
<circle cx="42.90" cy="230.17" r="0.85" fill="#000"/>
<circle cx="71.80" cy="227.91" r="0.85" fill="#000"/>
<circle cx="100.00" cy="224.53" r="0.85" fill="#000"/>
<path d="M127.10,201.88 L130.10,201.88 L128.60,204.28 Z" fill="#000"/>
<path d="M42.90,227.91 L71.80,229.04 L100.00,226.79 L128.60,206.47" fill="none" stroke="#000" stroke-width="0.9"/>
<circle cx="42.90" cy="227.91" r="0.85" fill="#000"/>
<circle cx="71.80" cy="229.04" r="0.85" fill="#000"/>
<circle cx="100.00" cy="226.79" r="0.85" fill="#000"/>
<path d="M127.10,205.27 L130.10,205.27 L128.60,207.67 Z" fill="#000"/>
<path d="M42.90,229.04 L71.80,225.66 L100.00,227.91 L128.60,208.73" fill="none" stroke="#000" stroke-width="0.9"/>
<circle cx="42.90" cy="229.04" r="0.85" fill="#000"/>
<circle cx="71.80" cy="225.66" r="0.85" fill="#000"/>
<circle cx="100.00" cy="227.91" r="0.85" fill="#000"/>
<path d="M127.10,207.53 L130.10,207.53 L128.60,209.93 Z" fill="#000"/>
<path d="M42.90,230.17 L71.80,230.17 L100.00,229.04 L128.60,210.98" fill="none" stroke="#000" stroke-width="0.9"/>
<circle cx="42.90" cy="230.17" r="0.85" fill="#000"/>
<circle cx="71.80" cy="230.17" r="0.85" fill="#000"/>
<circle cx="100.00" cy="229.04" r="0.85" fill="#000"/>
<path d="M127.10,209.78 L130.10,209.78 L128.60,212.18 Z" fill="#000"/>
<path d="M42.90,224.53 L71.80,226.79 L100.00,224.53 L128.60,213.24" fill="none" stroke="#000" stroke-width="0.9"/>
<circle cx="42.90" cy="224.53" r="0.85" fill="#000"/>
<circle cx="71.80" cy="226.79" r="0.85" fill="#000"/>
<circle cx="100.00" cy="224.53" r="0.85" fill="#000"/>
<path d="M127.10,212.04 L130.10,212.04 L128.60,214.44 Z" fill="#000"/>
<path d="M42.90,229.04 L71.80,227.91 L100.00,225.66 L128.60,215.50" fill="none" stroke="#000" stroke-width="0.9"/>
<circle cx="42.90" cy="229.04" r="0.85" fill="#000"/>
<circle cx="71.80" cy="227.91" r="0.85" fill="#000"/>
<circle cx="100.00" cy="225.66" r="0.85" fill="#000"/>
<path d="M127.10,214.30 L130.10,214.30 L128.60,216.70 Z" fill="#000"/>
<path d="M42.90,230.17 L71.80,229.04 L100.00,227.91 L128.60,217.75" fill="none" stroke="#000" stroke-width="0.9"/>
<circle cx="42.90" cy="230.17" r="0.85" fill="#000"/>
<circle cx="71.80" cy="229.04" r="0.85" fill="#000"/>
<circle cx="100.00" cy="227.91" r="0.85" fill="#000"/>
<path d="M127.10,216.56 L130.10,216.56 L128.60,218.95 Z" fill="#000"/>
<path d="M42.90,227.91 L71.80,230.17 L100.00,229.04 L128.60,220.01" fill="none" stroke="#000" stroke-width="0.9"/>
<circle cx="42.90" cy="227.91" r="0.85" fill="#000"/>
<circle cx="71.80" cy="230.17" r="0.85" fill="#000"/>
<circle cx="100.00" cy="229.04" r="0.85" fill="#000"/>
<path d="M127.10,218.81 L130.10,218.81 L128.60,221.21 Z" fill="#000"/>
<path d="M42.90,229.04 L71.80,229.04 L100.00,230.17 L128.60,222.27" fill="none" stroke="#000" stroke-width="0.9"/>
<circle cx="42.90" cy="229.04" r="0.85" fill="#000"/>
<circle cx="71.80" cy="229.04" r="0.85" fill="#000"/>
<circle cx="100.00" cy="230.17" r="0.85" fill="#000"/>
<path d="M127.10,221.07 L130.10,221.07 L128.60,223.47 Z" fill="#000"/>
<path d="M42.90,230.17 L71.80,230.17 L100.00,229.04 L128.60,224.53" fill="none" stroke="#000" stroke-width="0.9"/>
<circle cx="42.90" cy="230.17" r="0.85" fill="#000"/>
<circle cx="71.80" cy="230.17" r="0.85" fill="#000"/>
<circle cx="100.00" cy="229.04" r="0.85" fill="#000"/>
<path d="M127.10,223.33 L130.10,223.33 L128.60,225.73 Z" fill="#000"/>
<path d="M42.90,229.04 L71.80,227.91 L100.00,230.17 L128.60,225.66" fill="none" stroke="#000" stroke-width="0.9"/>
<circle cx="42.90" cy="229.04" r="0.85" fill="#000"/>
<circle cx="71.80" cy="227.91" r="0.85" fill="#000"/>
<circle cx="100.00" cy="230.17" r="0.85" fill="#000"/>
<path d="M127.10,224.46 L130.10,224.46 L128.60,226.86 Z" fill="#000"/>
<path d="M42.90,230.17 L71.80,230.74 L100.00,230.17 L128.60,225.66" fill="none" stroke="#000" stroke-width="0.9"/>
<circle cx="42.90" cy="230.17" r="0.85" fill="#000"/>
<circle cx="71.80" cy="230.74" r="0.85" fill="#000"/>
<circle cx="100.00" cy="230.17" r="0.85" fill="#000"/>
<path d="M127.10,224.46 L130.10,224.46 L128.60,226.86 Z" fill="#000"/>
<path d="M42.90,230.74 L71.80,230.17 L100.00,230.74 L128.60,226.79" fill="none" stroke="#000" stroke-width="0.9"/>
<circle cx="42.90" cy="230.74" r="0.85" fill="#000"/>
<circle cx="71.80" cy="230.17" r="0.85" fill="#000"/>
<circle cx="100.00" cy="230.74" r="0.85" fill="#000"/>
<path d="M127.10,225.59 L130.10,225.59 L128.60,227.99 Z" fill="#000"/>
<path d="M42.90,226.79 L71.80,221.14 L100.00,218.88 L128.60,227.91" fill="none" stroke="#000" stroke-width="0.9"/>
<circle cx="42.90" cy="226.79" r="0.85" fill="#000"/>
<circle cx="71.80" cy="221.14" r="0.85" fill="#000"/>
<circle cx="100.00" cy="218.88" r="0.85" fill="#000"/>
<path d="M127.10,226.71 L130.10,226.71 L128.60,229.11 Z" fill="#000"/>
<path d="M42.90,229.04 L71.80,224.53 L100.00,222.27 L128.60,229.04" fill="none" stroke="#000" stroke-width="0.9"/>
<circle cx="42.90" cy="229.04" r="0.85" fill="#000"/>
<circle cx="71.80" cy="224.53" r="0.85" fill="#000"/>
<circle cx="100.00" cy="222.27" r="0.85" fill="#000"/>
<path d="M127.10,227.84 L130.10,227.84 L128.60,230.24 Z" fill="#000"/>
<path d="M42.90,230.17 L71.80,229.04 L100.00,226.79 L128.60,229.04" fill="none" stroke="#000" stroke-width="0.9"/>
<circle cx="42.90" cy="230.17" r="0.85" fill="#000"/>
<circle cx="71.80" cy="229.04" r="0.85" fill="#000"/>
<circle cx="100.00" cy="226.79" r="0.85" fill="#000"/>
<path d="M127.10,227.84 L130.10,227.84 L128.60,230.24 Z" fill="#000"/>
<path d="M42.90,227.91 L71.80,226.79 L100.00,223.40 L128.60,230.17" fill="none" stroke="#000" stroke-width="0.9"/>
<circle cx="42.90" cy="227.91" r="0.85" fill="#000"/>
<circle cx="71.80" cy="226.79" r="0.85" fill="#000"/>
<circle cx="100.00" cy="223.40" r="0.85" fill="#000"/>
<path d="M127.10,228.97 L130.10,228.97 L128.60,231.37 Z" fill="#000"/>
<path d="M42.90,225.66 L71.80,223.40 L100.00,216.63 L128.60,197.44" fill="none" stroke="#000" stroke-width="0.9"/>
<circle cx="42.90" cy="225.66" r="0.85" fill="#000"/>
<circle cx="71.80" cy="223.40" r="0.85" fill="#000"/>
<circle cx="100.00" cy="216.63" r="0.85" fill="#000"/>
<path d="M127.10,196.24 L130.10,196.24 L128.60,198.64 Z" fill="#000"/>
<path d="M42.90,229.04 L71.80,220.01 L100.00,213.24 L128.60,186.15" fill="none" stroke="#000" stroke-width="0.9"/>
<circle cx="42.90" cy="229.04" r="0.85" fill="#000"/>
<circle cx="71.80" cy="220.01" r="0.85" fill="#000"/>
<circle cx="100.00" cy="213.24" r="0.85" fill="#000"/>
<path d="M127.10,184.95 L130.10,184.95 L128.60,187.35 Z" fill="#000"/>
<path d="M42.90,230.17 L71.80,225.66 L100.00,221.14 L128.60,204.21" fill="none" stroke="#000" stroke-width="0.9"/>
<circle cx="42.90" cy="230.17" r="0.85" fill="#000"/>
<circle cx="71.80" cy="225.66" r="0.85" fill="#000"/>
<circle cx="100.00" cy="221.14" r="0.85" fill="#000"/>
<path d="M127.10,203.01 L130.10,203.01 L128.60,205.41 Z" fill="#000"/>
<path d="M42.90,227.91 L71.80,227.91 L100.00,214.37 L128.60,190.67" fill="none" stroke="#000" stroke-width="0.9"/>
<circle cx="42.90" cy="227.91" r="0.85" fill="#000"/>
<circle cx="71.80" cy="227.91" r="0.85" fill="#000"/>
<circle cx="100.00" cy="214.37" r="0.85" fill="#000"/>
<path d="M127.10,189.47 L130.10,189.47 L128.60,191.87 Z" fill="#000"/>
<path d="M42.90,229.04 L71.80,229.04 L100.00,208.73 L128.60,199.69" fill="none" stroke="#000" stroke-width="0.9"/>
<circle cx="42.90" cy="229.04" r="0.85" fill="#000"/>
<circle cx="71.80" cy="229.04" r="0.85" fill="#000"/>
<circle cx="100.00" cy="208.73" r="0.85" fill="#000"/>
<path d="M127.10,198.50 L130.10,198.50 L128.60,200.89 Z" fill="#000"/>
<text transform="translate(156.90,186.40) rotate(-90)" font-size="6.5" font-weight="bold" text-anchor="middle">Mean fluorescence</text>
<text transform="translate(165.20,186.40) rotate(-90)" font-size="6.5" font-weight="bold" text-anchor="middle">intensity Units : CD38</text>
<line x1="186.60" y1="141.50" x2="186.60" y2="232.20" stroke="#000" stroke-width="1.5" />
<line x1="184.00" y1="142.10" x2="186.60" y2="142.10" stroke="#000" stroke-width="1.2" />
<text x="180.00" y="145.30" font-size="6.4" font-weight="bold" text-anchor="end" >800</text>
<line x1="184.00" y1="164.45" x2="186.60" y2="164.45" stroke="#000" stroke-width="1.2" />
<text x="180.00" y="167.65" font-size="6.4" font-weight="bold" text-anchor="end" >600</text>
<line x1="184.00" y1="186.80" x2="186.60" y2="186.80" stroke="#000" stroke-width="1.2" />
<text x="180.00" y="190.00" font-size="6.4" font-weight="bold" text-anchor="end" >400</text>
<line x1="184.00" y1="209.15" x2="186.60" y2="209.15" stroke="#000" stroke-width="1.2" />
<text x="180.00" y="212.35" font-size="6.4" font-weight="bold" text-anchor="end" >200</text>
<line x1="184.00" y1="231.50" x2="186.60" y2="231.50" stroke="#000" stroke-width="1.2" />
<text x="180.00" y="234.70" font-size="6.4" font-weight="bold" text-anchor="end" >0</text>
<line x1="185.90" y1="231.50" x2="292.00" y2="231.50" stroke="#000" stroke-width="1.5" />
<text x="203.2" y="242.8" font-size="6.9" font-weight="bold">Ki-67<tspan font-size="4" dy="-2.9">neg</tspan></text>
<text x="254.6" y="242.8" font-size="6.9" font-weight="bold">Ki-67<tspan font-size="4" dy="-2.9">pos</tspan></text>
<line x1="212.6" y1="207.47" x2="265.4" y2="154.95" stroke="#000" stroke-width="1.0"/>
<line x1="212.6" y1="208.03" x2="265.4" y2="176.18" stroke="#000" stroke-width="1.0"/>
<line x1="212.6" y1="194.62" x2="265.4" y2="188.70" stroke="#000" stroke-width="1.0"/>
<line x1="212.6" y1="216.19" x2="265.4" y2="193.17" stroke="#000" stroke-width="1.0"/>
<line x1="212.6" y1="230.70" x2="265.4" y2="228.88" stroke="#000" stroke-width="1.0"/>
<line x1="212.6" y1="229.41" x2="265.4" y2="228.65" stroke="#000" stroke-width="1.0"/>
<line x1="212.6" y1="229.91" x2="265.4" y2="227.73" stroke="#000" stroke-width="1.0"/>
<line x1="212.6" y1="230.22" x2="265.4" y2="227.30" stroke="#000" stroke-width="1.0"/>
<line x1="212.6" y1="228.98" x2="265.4" y2="225.87" stroke="#000" stroke-width="1.0"/>
<line x1="212.6" y1="229.72" x2="265.4" y2="226.49" stroke="#000" stroke-width="1.0"/>
<line x1="212.6" y1="229.39" x2="265.4" y2="224.41" stroke="#000" stroke-width="1.0"/>
<line x1="212.6" y1="227.83" x2="265.4" y2="225.73" stroke="#000" stroke-width="1.0"/>
<line x1="212.6" y1="226.91" x2="265.4" y2="222.50" stroke="#000" stroke-width="1.0"/>
<line x1="212.6" y1="227.23" x2="265.4" y2="222.67" stroke="#000" stroke-width="1.0"/>
<line x1="212.6" y1="227.89" x2="265.4" y2="223.50" stroke="#000" stroke-width="1.0"/>
<line x1="212.6" y1="226.80" x2="265.4" y2="222.59" stroke="#000" stroke-width="1.0"/>
<line x1="212.6" y1="227.14" x2="265.4" y2="221.30" stroke="#000" stroke-width="1.0"/>
<line x1="212.6" y1="227.12" x2="265.4" y2="219.89" stroke="#000" stroke-width="1.0"/>
<line x1="212.6" y1="225.96" x2="265.4" y2="218.05" stroke="#000" stroke-width="1.0"/>
<line x1="212.6" y1="225.46" x2="265.4" y2="217.77" stroke="#000" stroke-width="1.0"/>
<line x1="212.6" y1="225.16" x2="265.4" y2="216.87" stroke="#000" stroke-width="1.0"/>
<line x1="212.6" y1="224.90" x2="265.4" y2="217.05" stroke="#000" stroke-width="1.0"/>
<line x1="212.6" y1="223.47" x2="265.4" y2="214.27" stroke="#000" stroke-width="1.0"/>
<line x1="212.6" y1="223.45" x2="265.4" y2="214.18" stroke="#000" stroke-width="1.0"/>
<line x1="212.6" y1="224.16" x2="265.4" y2="214.59" stroke="#000" stroke-width="1.0"/>
<line x1="212.6" y1="223.88" x2="265.4" y2="214.14" stroke="#000" stroke-width="1.0"/>
<line x1="212.6" y1="222.57" x2="265.4" y2="212.38" stroke="#000" stroke-width="1.0"/>
<line x1="212.6" y1="222.07" x2="265.4" y2="211.53" stroke="#000" stroke-width="1.0"/>
<line x1="212.6" y1="221.51" x2="265.4" y2="209.40" stroke="#000" stroke-width="1.0"/>
<line x1="212.6" y1="223.09" x2="265.4" y2="210.21" stroke="#000" stroke-width="1.0"/>
<line x1="212.6" y1="220.92" x2="265.4" y2="208.60" stroke="#000" stroke-width="1.0"/>
<line x1="212.6" y1="220.44" x2="265.4" y2="207.89" stroke="#000" stroke-width="1.0"/>
<line x1="212.6" y1="221.93" x2="265.4" y2="206.35" stroke="#000" stroke-width="1.0"/>
<line x1="212.6" y1="220.17" x2="265.4" y2="206.40" stroke="#000" stroke-width="1.0"/>
<line x1="212.6" y1="221.22" x2="265.4" y2="205.30" stroke="#000" stroke-width="1.0"/>
<line x1="212.6" y1="219.11" x2="265.4" y2="203.23" stroke="#000" stroke-width="1.0"/>
<line x1="212.6" y1="220.47" x2="265.4" y2="203.67" stroke="#000" stroke-width="1.0"/>
<line x1="212.6" y1="220.17" x2="265.4" y2="203.23" stroke="#000" stroke-width="1.0"/>
<line x1="212.6" y1="218.42" x2="265.4" y2="201.97" stroke="#000" stroke-width="1.0"/>
<line x1="212.6" y1="218.56" x2="265.4" y2="200.30" stroke="#000" stroke-width="1.0"/>
<line x1="212.6" y1="218.96" x2="265.4" y2="198.59" stroke="#000" stroke-width="1.0"/>
<line x1="212.6" y1="218.74" x2="265.4" y2="197.87" stroke="#000" stroke-width="1.0"/>
<line x1="212.6" y1="218.43" x2="265.4" y2="197.51" stroke="#000" stroke-width="1.0"/>
<line x1="212.6" y1="217.90" x2="265.4" y2="196.95" stroke="#000" stroke-width="1.0"/>
<line x1="212.6" y1="216.75" x2="265.4" y2="194.56" stroke="#000" stroke-width="1.0"/>
<line x1="212.6" y1="217.03" x2="265.4" y2="194.06" stroke="#000" stroke-width="1.0"/>
<path d="M212.60,205.97 L214.10,208.67 L211.10,208.67 Z" fill="#fff" stroke="#000" stroke-width="0.7"/>
<path d="M265.40,153.05 L267.30,156.47 L263.50,156.47 Z" fill="#000" stroke="#000" stroke-width="0.5"/>
<path d="M212.60,206.53 L214.10,209.23 L211.10,209.23 Z" fill="#fff" stroke="#000" stroke-width="0.7"/>
<path d="M265.40,174.28 L267.30,177.70 L263.50,177.70 Z" fill="#000" stroke="#000" stroke-width="0.5"/>
<path d="M212.60,193.12 L214.10,195.82 L211.10,195.82 Z" fill="#fff" stroke="#000" stroke-width="0.7"/>
<path d="M265.40,186.80 L267.30,190.22 L263.50,190.22 Z" fill="#000" stroke="#000" stroke-width="0.5"/>
<rect x="211.35" y="214.94" width="2.5" height="2.5" fill="#fff" stroke="#000" stroke-width="0.6"/>
<path d="M265.40,191.27 L267.30,194.69 L263.50,194.69 Z" fill="#000" stroke="#000" stroke-width="0.5"/>
<rect x="211.35" y="229.45" width="2.5" height="2.5" fill="#fff" stroke="#000" stroke-width="0.6"/>
<path d="M265.40,226.98 L267.30,230.40 L263.50,230.40 Z" fill="#000" stroke="#000" stroke-width="0.5"/>
<rect x="211.35" y="228.16" width="2.5" height="2.5" fill="#fff" stroke="#000" stroke-width="0.6"/>
<path d="M265.40,226.75 L267.30,230.17 L263.50,230.17 Z" fill="#000" stroke="#000" stroke-width="0.5"/>
<rect x="211.35" y="228.66" width="2.5" height="2.5" fill="#fff" stroke="#000" stroke-width="0.6"/>
<path d="M265.40,225.83 L267.30,229.25 L263.50,229.25 Z" fill="#000" stroke="#000" stroke-width="0.5"/>
<rect x="211.35" y="228.97" width="2.5" height="2.5" fill="#fff" stroke="#000" stroke-width="0.6"/>
<path d="M265.40,225.40 L267.30,228.82 L263.50,228.82 Z" fill="#000" stroke="#000" stroke-width="0.5"/>
<rect x="211.35" y="227.73" width="2.5" height="2.5" fill="#fff" stroke="#000" stroke-width="0.6"/>
<path d="M265.40,223.97 L267.30,227.39 L263.50,227.39 Z" fill="#000" stroke="#000" stroke-width="0.5"/>
<rect x="211.35" y="228.47" width="2.5" height="2.5" fill="#fff" stroke="#000" stroke-width="0.6"/>
<path d="M265.40,224.59 L267.30,228.01 L263.50,228.01 Z" fill="#000" stroke="#000" stroke-width="0.5"/>
<rect x="211.35" y="228.14" width="2.5" height="2.5" fill="#fff" stroke="#000" stroke-width="0.6"/>
<path d="M265.40,222.51 L267.30,225.93 L263.50,225.93 Z" fill="#000" stroke="#000" stroke-width="0.5"/>
<rect x="211.35" y="226.58" width="2.5" height="2.5" fill="#fff" stroke="#000" stroke-width="0.6"/>
<path d="M265.40,223.83 L267.30,227.25 L263.50,227.25 Z" fill="#000" stroke="#000" stroke-width="0.5"/>
<rect x="211.35" y="225.66" width="2.5" height="2.5" fill="#fff" stroke="#000" stroke-width="0.6"/>
<path d="M265.40,220.60 L267.30,224.02 L263.50,224.02 Z" fill="#000" stroke="#000" stroke-width="0.5"/>
<rect x="211.35" y="225.98" width="2.5" height="2.5" fill="#fff" stroke="#000" stroke-width="0.6"/>
<path d="M265.40,220.77 L267.30,224.19 L263.50,224.19 Z" fill="#000" stroke="#000" stroke-width="0.5"/>
<rect x="211.35" y="226.64" width="2.5" height="2.5" fill="#fff" stroke="#000" stroke-width="0.6"/>
<path d="M265.40,221.60 L267.30,225.02 L263.50,225.02 Z" fill="#000" stroke="#000" stroke-width="0.5"/>
<rect x="211.35" y="225.55" width="2.5" height="2.5" fill="#fff" stroke="#000" stroke-width="0.6"/>
<path d="M265.40,220.69 L267.30,224.11 L263.50,224.11 Z" fill="#000" stroke="#000" stroke-width="0.5"/>
<rect x="211.35" y="225.89" width="2.5" height="2.5" fill="#fff" stroke="#000" stroke-width="0.6"/>
<path d="M265.40,219.40 L267.30,222.82 L263.50,222.82 Z" fill="#000" stroke="#000" stroke-width="0.5"/>
<rect x="211.35" y="225.87" width="2.5" height="2.5" fill="#fff" stroke="#000" stroke-width="0.6"/>
<path d="M265.40,217.99 L267.30,221.41 L263.50,221.41 Z" fill="#000" stroke="#000" stroke-width="0.5"/>
<rect x="211.35" y="224.71" width="2.5" height="2.5" fill="#fff" stroke="#000" stroke-width="0.6"/>
<path d="M265.40,216.15 L267.30,219.57 L263.50,219.57 Z" fill="#000" stroke="#000" stroke-width="0.5"/>
<rect x="211.35" y="224.21" width="2.5" height="2.5" fill="#fff" stroke="#000" stroke-width="0.6"/>
<path d="M265.40,215.87 L267.30,219.29 L263.50,219.29 Z" fill="#000" stroke="#000" stroke-width="0.5"/>
<rect x="211.35" y="223.91" width="2.5" height="2.5" fill="#fff" stroke="#000" stroke-width="0.6"/>
<path d="M265.40,214.97 L267.30,218.39 L263.50,218.39 Z" fill="#000" stroke="#000" stroke-width="0.5"/>
<rect x="211.35" y="223.65" width="2.5" height="2.5" fill="#fff" stroke="#000" stroke-width="0.6"/>
<path d="M265.40,215.15 L267.30,218.57 L263.50,218.57 Z" fill="#000" stroke="#000" stroke-width="0.5"/>
<rect x="211.35" y="222.22" width="2.5" height="2.5" fill="#fff" stroke="#000" stroke-width="0.6"/>
<path d="M265.40,212.37 L267.30,215.79 L263.50,215.79 Z" fill="#000" stroke="#000" stroke-width="0.5"/>
<rect x="211.35" y="222.20" width="2.5" height="2.5" fill="#fff" stroke="#000" stroke-width="0.6"/>
<path d="M265.40,212.28 L267.30,215.70 L263.50,215.70 Z" fill="#000" stroke="#000" stroke-width="0.5"/>
<rect x="211.35" y="222.91" width="2.5" height="2.5" fill="#fff" stroke="#000" stroke-width="0.6"/>
<path d="M265.40,212.69 L267.30,216.11 L263.50,216.11 Z" fill="#000" stroke="#000" stroke-width="0.5"/>
<rect x="211.35" y="222.63" width="2.5" height="2.5" fill="#fff" stroke="#000" stroke-width="0.6"/>
<path d="M265.40,212.24 L267.30,215.66 L263.50,215.66 Z" fill="#000" stroke="#000" stroke-width="0.5"/>
<rect x="211.35" y="221.32" width="2.5" height="2.5" fill="#fff" stroke="#000" stroke-width="0.6"/>
<path d="M265.40,210.48 L267.30,213.90 L263.50,213.90 Z" fill="#000" stroke="#000" stroke-width="0.5"/>
<rect x="211.35" y="220.82" width="2.5" height="2.5" fill="#fff" stroke="#000" stroke-width="0.6"/>
<path d="M265.40,209.63 L267.30,213.05 L263.50,213.05 Z" fill="#000" stroke="#000" stroke-width="0.5"/>
<rect x="211.35" y="220.26" width="2.5" height="2.5" fill="#fff" stroke="#000" stroke-width="0.6"/>
<path d="M265.40,207.50 L267.30,210.92 L263.50,210.92 Z" fill="#000" stroke="#000" stroke-width="0.5"/>
<rect x="211.35" y="221.84" width="2.5" height="2.5" fill="#fff" stroke="#000" stroke-width="0.6"/>
<path d="M265.40,208.31 L267.30,211.73 L263.50,211.73 Z" fill="#000" stroke="#000" stroke-width="0.5"/>
<rect x="211.35" y="219.67" width="2.5" height="2.5" fill="#fff" stroke="#000" stroke-width="0.6"/>
<path d="M265.40,206.70 L267.30,210.12 L263.50,210.12 Z" fill="#000" stroke="#000" stroke-width="0.5"/>
<rect x="211.35" y="219.19" width="2.5" height="2.5" fill="#fff" stroke="#000" stroke-width="0.6"/>
<path d="M265.40,205.99 L267.30,209.41 L263.50,209.41 Z" fill="#000" stroke="#000" stroke-width="0.5"/>
<rect x="211.35" y="220.68" width="2.5" height="2.5" fill="#fff" stroke="#000" stroke-width="0.6"/>
<path d="M265.40,204.45 L267.30,207.87 L263.50,207.87 Z" fill="#000" stroke="#000" stroke-width="0.5"/>
<rect x="211.35" y="218.92" width="2.5" height="2.5" fill="#fff" stroke="#000" stroke-width="0.6"/>
<path d="M265.40,204.50 L267.30,207.92 L263.50,207.92 Z" fill="#000" stroke="#000" stroke-width="0.5"/>
<rect x="211.35" y="219.97" width="2.5" height="2.5" fill="#fff" stroke="#000" stroke-width="0.6"/>
<path d="M265.40,203.40 L267.30,206.82 L263.50,206.82 Z" fill="#000" stroke="#000" stroke-width="0.5"/>
<rect x="211.35" y="217.86" width="2.5" height="2.5" fill="#fff" stroke="#000" stroke-width="0.6"/>
<path d="M265.40,201.33 L267.30,204.75 L263.50,204.75 Z" fill="#000" stroke="#000" stroke-width="0.5"/>
<rect x="211.35" y="219.22" width="2.5" height="2.5" fill="#fff" stroke="#000" stroke-width="0.6"/>
<path d="M265.40,201.77 L267.30,205.19 L263.50,205.19 Z" fill="#000" stroke="#000" stroke-width="0.5"/>
<rect x="211.35" y="218.92" width="2.5" height="2.5" fill="#fff" stroke="#000" stroke-width="0.6"/>
<path d="M265.40,201.33 L267.30,204.75 L263.50,204.75 Z" fill="#000" stroke="#000" stroke-width="0.5"/>
<rect x="211.35" y="217.17" width="2.5" height="2.5" fill="#fff" stroke="#000" stroke-width="0.6"/>
<path d="M265.40,200.07 L267.30,203.49 L263.50,203.49 Z" fill="#000" stroke="#000" stroke-width="0.5"/>
<rect x="211.35" y="217.31" width="2.5" height="2.5" fill="#fff" stroke="#000" stroke-width="0.6"/>
<path d="M265.40,198.40 L267.30,201.82 L263.50,201.82 Z" fill="#000" stroke="#000" stroke-width="0.5"/>
<rect x="211.35" y="217.71" width="2.5" height="2.5" fill="#fff" stroke="#000" stroke-width="0.6"/>
<path d="M265.40,196.69 L267.30,200.11 L263.50,200.11 Z" fill="#000" stroke="#000" stroke-width="0.5"/>
<rect x="211.35" y="217.49" width="2.5" height="2.5" fill="#fff" stroke="#000" stroke-width="0.6"/>
<path d="M265.40,195.97 L267.30,199.39 L263.50,199.39 Z" fill="#000" stroke="#000" stroke-width="0.5"/>
<rect x="211.35" y="217.18" width="2.5" height="2.5" fill="#fff" stroke="#000" stroke-width="0.6"/>
<path d="M265.40,195.61 L267.30,199.03 L263.50,199.03 Z" fill="#000" stroke="#000" stroke-width="0.5"/>
<rect x="211.35" y="216.65" width="2.5" height="2.5" fill="#fff" stroke="#000" stroke-width="0.6"/>
<path d="M265.40,195.05 L267.30,198.47 L263.50,198.47 Z" fill="#000" stroke="#000" stroke-width="0.5"/>
<rect x="211.35" y="215.50" width="2.5" height="2.5" fill="#fff" stroke="#000" stroke-width="0.6"/>
<path d="M265.40,192.66 L267.30,196.08 L263.50,196.08 Z" fill="#000" stroke="#000" stroke-width="0.5"/>
<rect x="211.35" y="215.78" width="2.5" height="2.5" fill="#fff" stroke="#000" stroke-width="0.6"/>
<path d="M265.40,192.16 L267.30,195.58 L263.50,195.58 Z" fill="#000" stroke="#000" stroke-width="0.5"/>
</svg></body></html>
